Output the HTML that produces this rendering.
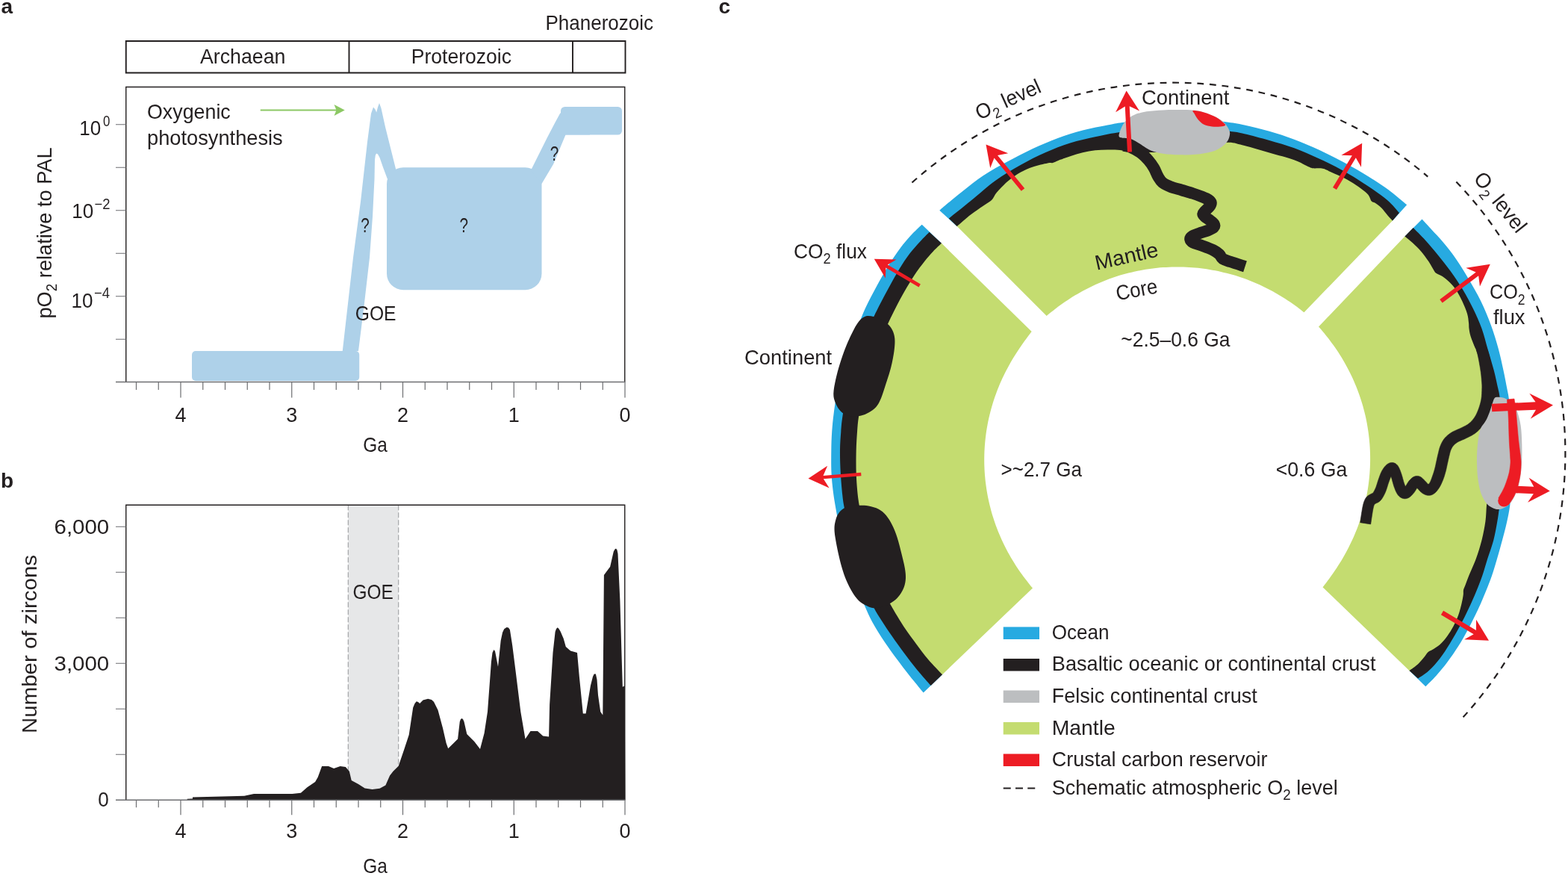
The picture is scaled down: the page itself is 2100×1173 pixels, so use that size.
<!DOCTYPE html>
<html lang="en"><head><meta charset="utf-8"><title>Atmospheric oxygen, zircon record and crustal carbon reservoir</title>
<style>html,body{margin:0;padding:0;background:#fff}svg{display:block}text{font-family:'Liberation Sans', sans-serif}</style>
</head><body>
<svg width="2100" height="1173" viewBox="0 0 2100 1173">
<rect width="2100" height="1173" fill="#fff"/>
<g id="panel-a">
<text x="1.50" y="18.00" font-size="28.00" font-weight="bold" fill="#231f20">a</text>
<path d="M168.75,55H837.5V97.5H168.75ZM467.5,55V97.5M767,55V97.5" fill="none" stroke="#231f20" stroke-width="1.9"/>
<text x="268.00" y="85.00" font-size="28.00" textLength="114.50" lengthAdjust="spacingAndGlyphs" fill="#231f20">Archaean</text>
<text x="550.75" y="85.00" font-size="28.00" textLength="134.25" lengthAdjust="spacingAndGlyphs" fill="#231f20">Proterozoic</text>
<text x="730.50" y="40.00" font-size="28.00" textLength="144.50" lengthAdjust="spacingAndGlyphs" fill="#231f20">Phanerozoic</text>
<rect x="257" y="470" width="224.25" height="40" rx="5" ry="5" fill="#aed1e9"/>
<path d="M458.75,470.00 L473.00,345.00 L483.00,270.00 L492.00,190.00 L497.00,152.00 L500.00,143.50 L502.50,146.50 L504.20,150.50 L506.00,143.50 L508.00,138.00 L510.50,145.00 L516.00,170.00 L523.00,198.00 L530.50,228.00 L519.00,240.00 L513.00,224.00 L508.50,211.00 L506.00,206.50 L504.00,205.50 L502.80,208.00 L502.00,214.00 L501.50,240.00 L499.00,290.00 L495.00,345.00 L487.50,410.00 L480.00,470.00Z" fill="#aed1e9"/>
<rect x="518" y="224.25" width="207.5" height="164" rx="22" ry="22" fill="#aed1e9"/>
<path d="M711.00,228.00 L722.00,206.00 L733.00,184.00 L744.00,163.00 L750.00,152.00 L756.00,146.00 L790.00,146.00 L790.00,180.50 L757.50,180.50 L741.00,220.00 L725.50,246.00Z" fill="#aed1e9"/>
<rect x="751" y="143" width="82" height="37.5" rx="5.5" ry="5.5" fill="#aed1e9"/>
<path d="M168.75,511.5V116.5H836.75V511.5" fill="none" stroke="#231f20" stroke-width="1.4"/>
<path d="M155,511.5H837.4" fill="none" stroke="#6d6e71" stroke-width="1.5"/>
<path d="M155,166.75H168.75M155,224.25H168.75M155,281.75H168.75M155,339.25H168.75M155,396.75H168.75M155,454.25H168.75" stroke="#6d6e71" stroke-width="1.2" fill="none"/>
<path d="M837.00,511.50V532.50M807.25,511.50V522.00M777.50,511.50V522.00M747.75,511.50V522.00M718.00,511.50V522.00M688.25,511.50V532.50M658.50,511.50V522.00M628.75,511.50V522.00M599.00,511.50V522.00M569.25,511.50V522.00M539.50,511.50V532.50M509.75,511.50V522.00M480.00,511.50V522.00M450.25,511.50V522.00M420.50,511.50V522.00M390.75,511.50V532.50M361.00,511.50V522.00M331.25,511.50V522.00M301.50,511.50V522.00M271.75,511.50V522.00M242.00,511.50V532.50M212.25,511.50V522.00M182.50,511.50V522.00" stroke="#6d6e71" stroke-width="1.2" fill="none"/>
<text x="837.00" y="564.50" font-size="28.00" text-anchor="middle" textLength="15.00" lengthAdjust="spacingAndGlyphs" fill="#231f20">0</text>
<text x="688.25" y="564.50" font-size="28.00" text-anchor="middle" textLength="15.00" lengthAdjust="spacingAndGlyphs" fill="#231f20">1</text>
<text x="539.50" y="564.50" font-size="28.00" text-anchor="middle" textLength="15.00" lengthAdjust="spacingAndGlyphs" fill="#231f20">2</text>
<text x="390.75" y="564.50" font-size="28.00" text-anchor="middle" textLength="15.00" lengthAdjust="spacingAndGlyphs" fill="#231f20">3</text>
<text x="242.00" y="564.50" font-size="28.00" text-anchor="middle" textLength="15.00" lengthAdjust="spacingAndGlyphs" fill="#231f20">4</text>
<text x="502.50" y="604.50" font-size="28.00" text-anchor="middle" textLength="32.50" lengthAdjust="spacingAndGlyphs" fill="#231f20">Ga</text>
<text font-size="28" fill="#231f20"><tspan x="106.30" y="181.40" textLength="29" lengthAdjust="spacingAndGlyphs">10</tspan><tspan x="137.90" y="168.80" font-size="19.5" textLength="9.40" lengthAdjust="spacingAndGlyphs">0</tspan></text>
<text font-size="28" fill="#231f20"><tspan x="96.20" y="292.40" textLength="29" lengthAdjust="spacingAndGlyphs">10</tspan><tspan x="126.60" y="279.80" font-size="19.5" textLength="21.00" lengthAdjust="spacingAndGlyphs">−2</tspan></text>
<text font-size="28" fill="#231f20"><tspan x="95.60" y="411.90" textLength="29" lengthAdjust="spacingAndGlyphs">10</tspan><tspan x="126.00" y="399.30" font-size="19.5" textLength="21.00" lengthAdjust="spacingAndGlyphs">−4</tspan></text>
<text transform="translate(68.75,426.5) rotate(-90)" font-size="28" fill="#231f20" textLength="229" lengthAdjust="spacingAndGlyphs">pO<tspan font-size="19.5" dy="7.5">2</tspan><tspan dy="-7.5"> relative to PAL</tspan></text>
<text x="197.00" y="159.25" font-size="28.00" textLength="111.75" lengthAdjust="spacingAndGlyphs" fill="#231f20">Oxygenic</text>
<text x="197.00" y="193.75" font-size="28.00" textLength="181.75" lengthAdjust="spacingAndGlyphs" fill="#231f20">photosynthesis</text>
<text x="475.75" y="428.75" font-size="28.00" textLength="54.75" lengthAdjust="spacingAndGlyphs" fill="#231f20">GOE</text>
<text x="489.00" y="311.25" font-size="28.00" text-anchor="middle" textLength="11.50" lengthAdjust="spacingAndGlyphs" fill="#231f20">?</text>
<text x="621.25" y="311.25" font-size="28.00" text-anchor="middle" textLength="11.50" lengthAdjust="spacingAndGlyphs" fill="#231f20">?</text>
<text x="742.50" y="214.50" font-size="28.00" text-anchor="middle" textLength="11.50" lengthAdjust="spacingAndGlyphs" fill="#231f20">?</text>
<path d="M348.75,147.5H452" stroke="#8cc864" stroke-width="1.8" fill="none"/>
<path d="M461.75,147.5L447.5,140L450.5,147.5L447.5,155Z" fill="#8cc864"/>
</g>
<g id="panel-b">
<text x="1.00" y="652.50" font-size="28.00" font-weight="bold" fill="#231f20">b</text>
<rect x="466.25" y="676.25" width="67.5" height="395" fill="#e6e7e8"/>
<path d="M466.25,676.25V1071M533.75,676.25V1071" stroke="#939598" stroke-width="1" stroke-dasharray="7 3" fill="none"/>
<path d="M250.70,1069.70 L257.90,1069.50 L258.00,1067.40 L327.10,1065.70 L340.00,1062.90 L391.40,1062.90 L402.90,1061.70 L411.40,1054.30 L422.10,1047.10 L425.70,1040.70 L431.10,1026.10 L440.00,1026.10 L447.10,1029.00 L455.70,1026.10 L462.90,1027.10 L467.90,1032.90 L470.70,1045.00 L480.00,1050.00 L488.60,1055.40 L498.60,1057.10 L508.60,1055.70 L516.40,1051.40 L522.10,1038.60 L526.60,1032.80 L533.70,1025.70 L541.10,1004.00 L547.70,984.00 L553.20,947.40 L555.50,942.00 L557.70,939.30 L560.00,940.00 L562.10,941.90 L566.50,937.50 L573.20,935.70 L578.00,937.00 L581.00,939.70 L586.50,950.80 L593.10,975.20 L597.60,995.10 L600.20,1002.20 L607.60,995.10 L613.10,989.60 L615.80,966.30 L617.00,963.00 L618.60,961.90 L620.00,963.00 L621.50,966.30 L625.30,982.90 L635.30,992.90 L643.00,1002.90 L648.60,981.80 L653.00,953.00 L657.90,886.50 L659.50,874.00 L661.40,869.90 L663.00,872.00 L664.10,877.60 L667.00,892.70 L670.70,857.70 L673.00,847.00 L675.20,842.20 L678.50,839.90 L681.00,840.50 L682.90,843.30 L686.20,864.30 L690.70,899.80 L697.30,953.00 L703.50,989.40 L710.50,979.10 L720.00,979.10 L727.20,985.40 L735.10,986.60 L736.10,943.40 L740.50,874.00 L743.60,846.00 L745.00,842.00 L746.80,840.30 L748.50,842.00 L750.60,845.60 L754.70,855.10 L757.80,866.10 L764.10,871.50 L773.00,874.00 L775.80,905.60 L780.80,955.40 L784.60,955.40 L790.90,918.20 L794.00,906.00 L795.70,902.40 L797.90,902.40 L799.50,910.00 L801.00,930.80 L804.20,952.90 L807.30,957.60 L808.90,769.90 L817.10,758.90 L821.80,738.40 L823.50,735.50 L825.00,734.60 L826.50,736.50 L827.50,741.50 L830.40,804.60 L833.80,919.80 L836.70,918.20 L837.40,1071.25 L250.70,1071.25Z" fill="#231f20"/>
<path d="M168.75,1071.25V676.25H836.75V1071.25" fill="none" stroke="#231f20" stroke-width="1.4"/>
<path d="M155,1071.25H837.4" fill="none" stroke="#6d6e71" stroke-width="1.5"/>
<path d="M155,705.25H168.75M155,766.25H168.75M155,827.25H168.75M155,888.25H168.75M155,949.25H168.75M155,1010.25H168.75" stroke="#6d6e71" stroke-width="1.2" fill="none"/>
<path d="M837.00,1071.25V1091.25M807.25,1071.25V1081.25M777.50,1071.25V1081.25M747.75,1071.25V1081.25M718.00,1071.25V1081.25M688.25,1071.25V1091.25M658.50,1071.25V1081.25M628.75,1071.25V1081.25M599.00,1071.25V1081.25M569.25,1071.25V1081.25M539.50,1071.25V1091.25M509.75,1071.25V1081.25M480.00,1071.25V1081.25M450.25,1071.25V1081.25M420.50,1071.25V1081.25M390.75,1071.25V1091.25M361.00,1071.25V1081.25M331.25,1071.25V1081.25M301.50,1071.25V1081.25M271.75,1071.25V1081.25M242.00,1071.25V1091.25M212.25,1071.25V1081.25M182.50,1071.25V1081.25" stroke="#6d6e71" stroke-width="1.2" fill="none"/>
<text x="837.00" y="1122.00" font-size="28.00" text-anchor="middle" textLength="15.00" lengthAdjust="spacingAndGlyphs" fill="#231f20">0</text>
<text x="688.25" y="1122.00" font-size="28.00" text-anchor="middle" textLength="15.00" lengthAdjust="spacingAndGlyphs" fill="#231f20">1</text>
<text x="539.50" y="1122.00" font-size="28.00" text-anchor="middle" textLength="15.00" lengthAdjust="spacingAndGlyphs" fill="#231f20">2</text>
<text x="390.75" y="1122.00" font-size="28.00" text-anchor="middle" textLength="15.00" lengthAdjust="spacingAndGlyphs" fill="#231f20">3</text>
<text x="242.00" y="1122.00" font-size="28.00" text-anchor="middle" textLength="15.00" lengthAdjust="spacingAndGlyphs" fill="#231f20">4</text>
<text x="502.50" y="1168.75" font-size="28.00" text-anchor="middle" textLength="32.50" lengthAdjust="spacingAndGlyphs" fill="#231f20">Ga</text>
<text x="146.25" y="714.50" font-size="28.00" text-anchor="end" textLength="73.75" lengthAdjust="spacingAndGlyphs" fill="#231f20">6,000</text>
<text x="146.25" y="897.50" font-size="28.00" text-anchor="end" textLength="73.75" lengthAdjust="spacingAndGlyphs" fill="#231f20">3,000</text>
<text x="145.75" y="1080.00" font-size="28.00" text-anchor="end" textLength="14.50" lengthAdjust="spacingAndGlyphs" fill="#231f20">0</text>
<text x="0" y="0" transform="translate(48.75,982.00) rotate(-90.00)" font-size="28.00" textLength="239.00" lengthAdjust="spacingAndGlyphs" fill="#231f20">Number of zircons</text>
<text x="472.50" y="802.00" font-size="28.00" textLength="54.25" lengthAdjust="spacingAndGlyphs" fill="#231f20">GOE</text>
</g>
<g id="panel-c">
<text x="962.50" y="18.00" font-size="28.00" font-weight="bold" fill="#231f20">c</text>
<path d="M1234.70,300.80 C1232.18,303.25 1224.40,310.30 1219.60,315.50 C1214.80,320.70 1210.45,325.97 1205.90,332.00 C1201.35,338.03 1196.52,345.12 1192.30,351.70 C1188.08,358.28 1184.50,364.62 1180.60,371.50 C1176.70,378.38 1172.53,386.08 1168.90,393.00 C1165.27,399.92 1162.00,406.00 1158.80,413.00 C1155.60,420.00 1152.83,427.17 1149.70,435.00 C1146.57,442.83 1143.28,450.83 1140.00,460.00 C1136.72,469.17 1133.00,480.00 1130.00,490.00 C1127.00,500.00 1124.22,509.45 1122.00,520.00 C1119.78,530.55 1118.00,543.58 1116.70,553.30 C1115.40,563.02 1114.77,569.97 1114.20,578.30 C1113.63,586.63 1113.42,594.13 1113.30,603.30 C1113.18,612.47 1113.08,624.13 1113.50,633.30 C1113.92,642.47 1114.85,650.52 1115.80,658.30 C1116.75,666.08 1117.83,672.22 1119.20,680.00 C1120.57,687.78 1122.03,695.83 1124.00,705.00 C1125.97,714.17 1128.33,725.00 1131.00,735.00 C1133.67,745.00 1136.83,755.50 1140.00,765.00 C1143.17,774.50 1147.00,784.33 1150.00,792.00 C1153.00,799.67 1154.95,804.17 1158.00,811.00 C1161.05,817.83 1163.80,824.83 1168.30,833.00 C1172.80,841.17 1179.43,851.62 1185.00,860.00 C1190.57,868.38 1196.15,875.80 1201.70,883.30 C1207.25,890.80 1212.47,897.63 1218.30,905.00 C1224.13,912.37 1233.63,923.75 1236.70,927.50 L1262.44,902.90 C1259.33,899.57 1249.64,889.85 1243.77,882.93 C1237.89,876.00 1232.19,868.01 1227.19,861.36 C1222.20,854.70 1217.97,849.09 1213.81,842.98 C1209.65,836.88 1205.69,830.38 1202.23,824.71 C1198.76,819.03 1196.15,814.42 1193.04,808.93 C1189.92,803.44 1186.96,799.11 1183.55,791.76 C1180.14,784.40 1175.89,774.28 1172.56,764.79 C1169.24,755.31 1166.24,744.82 1163.58,734.84 C1160.91,724.85 1158.62,714.58 1156.59,704.88 C1154.56,695.18 1152.68,684.39 1151.39,676.62 C1150.11,668.85 1149.58,665.47 1148.90,658.24 C1148.21,651.02 1147.57,642.43 1147.30,633.28 C1147.03,624.12 1147.08,612.47 1147.30,603.32 C1147.52,594.17 1148.05,585.84 1148.60,578.36 C1149.15,570.87 1149.43,566.09 1150.59,558.38 C1151.76,550.68 1153.42,541.16 1155.59,532.12 C1157.75,523.08 1160.75,513.48 1163.58,504.16 C1166.41,494.84 1169.57,484.85 1172.57,476.20 C1175.56,467.54 1178.42,459.89 1181.55,452.23 C1184.68,444.58 1188.21,436.97 1191.34,430.26 C1194.47,423.56 1196.88,418.65 1200.33,411.99 C1203.77,405.33 1207.85,397.54 1212.01,390.32 C1216.17,383.09 1220.85,375.31 1225.29,368.65 C1229.73,361.99 1234.53,355.63 1238.67,350.37 C1242.81,345.11 1246.36,341.12 1250.15,337.09 C1253.95,333.06 1259.56,328.02 1261.44,326.21Z" fill="#27aae1"/>
<path d="M1260.27,325.12 C1258.38,326.94 1252.75,332.00 1248.94,336.05 C1245.13,340.09 1241.58,344.10 1237.42,349.38 C1233.26,354.66 1228.45,361.04 1223.98,367.72 C1219.52,374.40 1214.83,382.22 1210.65,389.47 C1206.48,396.72 1202.38,404.54 1198.92,411.22 C1195.46,417.90 1193.04,422.83 1189.90,429.56 C1186.76,436.29 1183.22,443.93 1180.08,451.61 C1176.94,459.30 1174.06,466.98 1171.06,475.67 C1168.05,484.36 1164.88,494.38 1162.04,503.73 C1159.20,513.09 1156.19,522.73 1154.02,531.80 C1151.85,540.87 1150.18,550.43 1149.01,558.16 C1147.84,565.90 1147.56,570.69 1147.00,578.21 C1146.45,585.73 1145.92,594.08 1145.70,603.27 C1145.48,612.45 1145.43,624.15 1145.70,633.34 C1145.97,642.52 1146.62,651.14 1147.30,658.39 C1147.99,665.64 1148.52,669.04 1149.81,676.84 C1151.10,684.64 1152.98,695.46 1155.02,705.20 C1157.06,714.94 1159.36,725.25 1162.04,735.27 C1164.71,745.30 1167.72,755.82 1171.06,765.34 C1174.40,774.86 1178.66,785.02 1182.09,792.40 C1185.51,799.79 1188.48,804.13 1191.61,809.65 C1194.73,815.16 1197.35,819.79 1200.82,825.48 C1204.30,831.18 1208.27,837.70 1212.45,843.83 C1216.63,849.96 1220.87,855.59 1225.88,862.27 C1230.89,868.95 1236.62,876.97 1242.52,883.92 C1248.41,890.87 1258.14,900.63 1261.26,903.97 L1383.00,787.50 C1382.17,786.49 1379.66,783.50 1378.03,781.47 C1376.40,779.44 1374.79,777.39 1373.21,775.31 C1371.64,773.24 1370.09,771.15 1368.57,769.04 C1367.05,766.93 1365.56,764.80 1364.09,762.65 C1362.63,760.50 1361.20,758.33 1359.80,756.14 C1358.40,753.95 1357.03,751.74 1355.69,749.51 C1354.35,747.29 1353.05,745.04 1351.77,742.78 C1350.50,740.51 1349.26,738.23 1348.05,735.93 C1346.84,733.63 1345.67,731.31 1344.53,728.98 C1343.39,726.65 1342.28,724.30 1341.21,721.93 C1340.14,719.56 1339.10,717.18 1338.10,714.79 C1337.10,712.39 1336.14,709.98 1335.21,707.55 C1334.28,705.13 1333.39,702.69 1332.54,700.24 C1331.68,697.79 1330.86,695.32 1330.08,692.85 C1329.30,690.37 1328.56,687.88 1327.85,685.38 C1327.15,682.88 1326.48,680.37 1325.85,677.85 C1325.22,675.34 1324.63,672.81 1324.08,670.27 C1323.53,667.73 1323.01,665.19 1322.54,662.64 C1322.06,660.08 1321.62,657.52 1321.23,654.96 C1320.83,652.39 1320.47,649.82 1320.15,647.24 C1319.83,644.67 1319.55,642.09 1319.31,639.50 C1319.07,636.92 1318.86,634.33 1318.70,631.74 C1318.54,629.14 1318.42,626.55 1318.33,623.96 C1318.25,621.36 1318.21,618.76 1318.20,616.17 C1318.20,613.57 1318.23,610.97 1318.30,608.38 C1318.38,605.78 1318.49,603.19 1318.65,600.60 C1318.80,598.01 1318.99,595.42 1319.22,592.83 C1319.45,590.25 1319.73,587.66 1320.04,585.08 C1320.35,582.51 1320.70,579.93 1321.08,577.37 C1321.47,574.80 1321.90,572.24 1322.37,569.68 C1322.83,567.13 1323.34,564.58 1323.88,562.04 C1324.42,559.51 1325.01,556.97 1325.63,554.45 C1326.25,551.93 1326.90,549.42 1327.60,546.92 C1328.30,544.42 1329.03,541.93 1329.80,539.45 C1330.57,536.97 1331.38,534.50 1332.23,532.05 C1333.07,529.59 1333.95,527.15 1334.87,524.72 C1335.79,522.29 1336.74,519.87 1337.73,517.47 C1338.72,515.07 1339.75,512.69 1340.80,510.31 C1341.86,507.94 1342.96,505.59 1344.08,503.25 C1345.21,500.91 1346.37,498.58 1347.56,496.27 C1348.76,493.97 1349.98,491.67 1351.24,489.40 C1352.49,487.12 1353.78,484.87 1355.10,482.62 C1356.42,480.38 1357.77,478.16 1359.14,475.95 C1360.52,473.74 1361.92,471.55 1363.35,469.38 C1364.78,467.20 1366.24,465.04 1367.72,462.90 C1369.21,460.76 1370.72,458.63 1372.25,456.52 C1373.78,454.40 1375.33,452.31 1376.91,450.22 C1378.48,448.13 1380.90,445.04 1381.70,444.00Z" fill="#c4dc70"/>
<path d="M1244.60,310.80 C1242.58,312.88 1236.93,318.43 1232.50,323.30 C1228.07,328.17 1222.65,333.88 1218.00,340.00 C1213.35,346.12 1209.03,352.78 1204.60,360.00 C1200.17,367.22 1195.53,375.80 1191.40,383.30 C1187.27,390.80 1183.13,398.60 1179.80,405.00 C1176.47,411.40 1174.70,415.03 1171.40,421.70 C1168.10,428.37 1163.57,436.95 1160.00,445.00 C1156.43,453.05 1153.17,461.17 1150.00,470.00 C1146.83,478.83 1143.67,488.50 1141.00,498.00 C1138.33,507.50 1136.12,516.95 1134.00,527.00 C1131.88,537.05 1129.58,549.75 1128.30,558.30 C1127.02,566.85 1126.85,570.80 1126.30,578.30 C1125.75,585.80 1125.08,594.13 1125.00,603.30 C1124.92,612.47 1125.25,623.30 1125.80,633.30 C1126.35,643.30 1127.47,655.52 1128.30,663.30 C1129.13,671.08 1129.52,673.05 1130.80,680.00 C1132.08,686.95 1133.97,695.83 1136.00,705.00 C1138.03,714.17 1140.33,725.00 1143.00,735.00 C1145.67,745.00 1148.83,755.00 1152.00,765.00 C1155.17,775.00 1158.90,786.80 1162.00,795.00 C1165.10,803.20 1167.40,808.08 1170.60,814.20 C1173.80,820.32 1177.20,825.45 1181.20,831.70 C1185.20,837.95 1189.58,844.48 1194.60,851.70 C1199.62,858.92 1205.72,867.50 1211.30,875.00 C1216.88,882.50 1222.20,889.53 1228.10,896.70 C1234.00,903.87 1243.60,914.45 1246.70,918.00 L1262.00,903.30 C1258.88,899.97 1249.18,890.23 1243.30,883.30 C1237.42,876.37 1231.70,868.37 1226.70,861.70 C1221.70,855.03 1217.47,849.42 1213.30,843.30 C1209.13,837.18 1205.17,830.68 1201.70,825.00 C1198.23,819.32 1195.62,814.70 1192.50,809.20 C1189.38,803.70 1186.42,799.37 1183.00,792.00 C1179.58,784.63 1175.33,774.50 1172.00,765.00 C1168.67,755.50 1165.67,745.00 1163.00,735.00 C1160.33,725.00 1158.03,714.72 1156.00,705.00 C1153.97,695.28 1152.08,684.48 1150.80,676.70 C1149.52,668.92 1148.98,665.53 1148.30,658.30 C1147.62,651.07 1146.97,642.47 1146.70,633.30 C1146.43,624.13 1146.48,612.47 1146.70,603.30 C1146.92,594.13 1147.45,585.80 1148.00,578.30 C1148.55,570.80 1148.83,566.02 1150.00,558.30 C1151.17,550.58 1152.83,541.05 1155.00,532.00 C1157.17,522.95 1160.17,513.33 1163.00,504.00 C1165.83,494.67 1169.00,484.67 1172.00,476.00 C1175.00,467.33 1177.87,459.67 1181.00,452.00 C1184.13,444.33 1187.67,436.72 1190.80,430.00 C1193.93,423.28 1196.35,418.37 1199.80,411.70 C1203.25,405.03 1207.33,397.23 1211.50,390.00 C1215.67,382.77 1220.35,374.97 1224.80,368.30 C1229.25,361.63 1234.05,355.27 1238.20,350.00 C1242.35,344.73 1245.90,340.73 1249.70,336.70 C1253.50,332.67 1259.12,327.62 1261.00,325.80Z" fill="#231f20"/>
<path d="M1160.00,423.30 C1163.17,422.38 1166.67,423.30 1170.00,424.00 C1173.33,424.70 1176.95,425.95 1180.00,427.50 C1183.05,429.05 1185.80,430.93 1188.30,433.30 C1190.80,435.67 1193.33,438.37 1195.00,441.70 C1196.67,445.03 1197.88,448.58 1198.30,453.30 C1198.72,458.02 1198.33,463.60 1197.50,470.00 C1196.67,476.40 1195.10,484.48 1193.30,491.70 C1191.50,498.92 1188.92,506.37 1186.70,513.30 C1184.48,520.23 1182.23,528.02 1180.00,533.30 C1177.77,538.58 1176.08,541.80 1173.30,545.00 C1170.52,548.20 1166.63,550.58 1163.30,552.50 C1159.97,554.42 1156.85,555.67 1153.30,556.50 C1149.75,557.33 1145.60,557.75 1142.00,557.50 C1138.40,557.25 1134.70,556.50 1131.70,555.00 C1128.70,553.50 1126.23,551.33 1124.00,548.50 C1121.77,545.67 1119.58,541.63 1118.30,538.00 C1117.02,534.37 1116.15,531.65 1116.30,526.70 C1116.45,521.75 1117.75,514.97 1119.20,508.30 C1120.65,501.63 1122.65,494.20 1125.00,486.70 C1127.35,479.20 1130.25,470.80 1133.30,463.30 C1136.35,455.80 1140.35,447.33 1143.30,441.70 C1146.25,436.07 1148.22,432.57 1151.00,429.50 C1153.78,426.43 1156.83,424.22 1160.00,423.30Z" fill="#231f20"/>
<path d="M1150.80,676.70 C1154.68,676.70 1158.98,676.67 1163.30,677.50 C1167.62,678.33 1172.80,679.62 1176.70,681.70 C1180.60,683.78 1183.65,686.40 1186.70,690.00 C1189.75,693.60 1192.50,698.30 1195.00,703.30 C1197.50,708.30 1199.62,713.60 1201.70,720.00 C1203.78,726.40 1205.83,735.03 1207.50,741.70 C1209.17,748.37 1210.78,754.62 1211.70,760.00 C1212.62,765.38 1213.15,769.67 1213.00,774.00 C1212.85,778.33 1212.13,782.22 1210.80,786.00 C1209.47,789.78 1207.35,793.53 1205.00,796.70 C1202.65,799.87 1200.03,802.53 1196.70,805.00 C1193.37,807.47 1189.45,809.97 1185.00,811.50 C1180.55,813.03 1174.17,814.32 1170.00,814.20 C1165.83,814.08 1163.33,812.47 1160.00,810.80 C1156.67,809.13 1153.05,807.12 1150.00,804.20 C1146.95,801.28 1144.48,797.88 1141.70,793.30 C1138.92,788.72 1135.67,782.25 1133.30,776.70 C1130.93,771.15 1129.30,766.12 1127.50,760.00 C1125.70,753.88 1123.97,746.67 1122.50,740.00 C1121.03,733.33 1119.53,725.33 1118.70,720.00 C1117.87,714.67 1117.50,711.62 1117.50,708.00 C1117.50,704.38 1117.87,701.58 1118.70,698.30 C1119.53,695.02 1120.62,691.22 1122.50,688.30 C1124.38,685.38 1127.08,682.60 1130.00,680.80 C1132.92,679.00 1136.53,678.18 1140.00,677.50 C1143.47,676.82 1146.92,676.70 1150.80,676.70Z" fill="#231f20"/>
<path d="M1258.30,281.70 C1262.47,278.22 1273.57,268.53 1283.30,260.80 C1293.03,253.07 1305.58,242.77 1316.70,235.30 C1327.82,227.83 1338.90,222.03 1350.00,216.00 C1361.10,209.97 1372.18,204.27 1383.30,199.10 C1394.42,193.93 1405.58,189.08 1416.70,185.00 C1427.82,180.92 1438.90,177.50 1450.00,174.60 C1461.10,171.70 1474.42,169.35 1483.30,167.60 C1492.18,165.85 1493.85,165.45 1503.30,164.10 C1512.75,162.75 1528.05,160.47 1540.00,159.50 C1551.95,158.53 1563.33,158.25 1575.00,158.30 C1586.67,158.35 1598.88,158.97 1610.00,159.80 C1621.12,160.63 1632.25,162.02 1641.70,163.30 C1651.15,164.58 1656.98,165.42 1666.70,167.50 C1676.42,169.58 1688.90,172.60 1700.00,175.80 C1711.10,179.00 1722.18,182.53 1733.30,186.70 C1744.42,190.87 1755.58,195.67 1766.70,200.80 C1777.82,205.93 1788.90,211.52 1800.00,217.50 C1811.10,223.48 1823.58,230.73 1833.30,236.70 C1843.02,242.67 1849.82,247.05 1858.30,253.30 C1866.78,259.55 1879.88,270.72 1884.20,274.20 L1864.60,295.95 C1863.48,294.75 1860.41,291.62 1857.91,288.76 C1855.41,285.89 1852.39,281.53 1849.62,278.77 C1846.86,276.00 1843.55,273.69 1841.33,272.18 C1839.12,270.66 1838.00,271.63 1836.34,269.68 C1834.68,267.73 1834.68,263.97 1831.35,260.49 C1828.02,257.01 1821.65,252.41 1816.37,248.80 C1811.10,245.19 1805.25,241.73 1799.70,238.82 C1794.14,235.90 1787.73,233.41 1783.02,231.33 C1778.31,229.25 1775.59,227.25 1771.43,226.34 C1767.27,225.42 1761.16,226.23 1758.05,225.84 C1754.93,225.46 1756.92,225.89 1752.75,224.05 C1748.59,222.20 1741.90,217.92 1733.08,214.76 C1724.26,211.60 1710.91,208.27 1699.83,205.07 C1688.74,201.88 1676.28,197.83 1666.57,195.59 C1656.87,193.34 1651.05,190.26 1641.61,191.59 C1632.17,192.93 1621.05,201.43 1609.95,203.60 C1598.85,205.77 1586.65,204.43 1575.00,204.60 C1563.35,204.77 1550.59,204.72 1540.05,204.60 C1529.52,204.48 1518.45,204.39 1511.79,203.89 C1505.13,203.39 1504.83,202.06 1500.11,201.59 C1495.38,201.12 1488.97,201.04 1483.43,201.09 C1477.89,201.13 1472.39,201.25 1466.85,201.88 C1461.31,202.51 1455.73,203.54 1450.17,204.87 C1444.62,206.20 1439.04,208.05 1433.50,209.87 C1427.96,211.68 1420.80,214.31 1416.92,215.76 C1413.04,217.21 1412.51,218.01 1410.23,218.55 C1407.95,219.10 1407.68,218.15 1403.24,219.05 C1398.79,219.95 1389.61,221.89 1383.56,223.94 C1377.52,225.99 1372.53,228.15 1366.99,231.33 C1361.44,234.51 1355.42,238.74 1350.31,243.01 C1345.20,247.29 1339.33,253.75 1336.33,257.00 C1333.34,260.25 1333.67,260.58 1332.34,262.49 C1331.01,264.41 1330.89,266.21 1328.35,268.49 C1325.80,270.77 1321.72,272.92 1317.06,276.18 C1312.40,279.44 1306.21,283.50 1300.38,288.06 C1294.56,292.62 1285.16,300.96 1282.11,303.54Z" fill="#27aae1"/>
<path d="M1281.02,302.37 C1284.07,299.78 1293.51,291.41 1299.36,286.83 C1305.21,282.25 1311.42,278.18 1316.10,274.90 C1320.77,271.63 1324.87,269.47 1327.42,267.18 C1329.98,264.90 1330.10,263.09 1331.43,261.18 C1332.77,259.26 1332.44,258.92 1335.45,255.67 C1338.46,252.41 1344.35,245.93 1349.48,241.64 C1354.61,237.35 1360.66,233.11 1366.22,229.92 C1371.79,226.73 1376.80,224.56 1382.86,222.50 C1388.92,220.45 1398.14,218.49 1402.60,217.58 C1407.06,216.68 1407.33,217.63 1409.62,217.08 C1411.90,216.52 1412.44,215.72 1416.33,214.27 C1420.22,212.82 1427.41,210.18 1432.97,208.36 C1438.53,206.53 1444.13,204.68 1449.71,203.34 C1455.29,202.01 1460.88,200.97 1466.45,200.33 C1472.01,199.70 1477.52,199.58 1483.08,199.52 C1488.65,199.47 1495.08,199.55 1499.82,200.02 C1504.56,200.48 1504.86,201.81 1511.55,202.31 C1518.23,202.81 1529.34,202.89 1539.91,203.00 C1550.49,203.12 1563.30,203.17 1575.00,203.00 C1586.69,202.83 1598.94,204.17 1610.08,202.00 C1621.22,199.84 1632.38,191.34 1641.85,190.01 C1651.32,188.68 1657.17,191.77 1666.91,194.02 C1676.65,196.28 1689.16,200.33 1700.29,203.54 C1711.41,206.75 1724.81,210.09 1733.66,213.27 C1742.52,216.44 1749.23,220.73 1753.41,222.59 C1757.59,224.44 1755.60,224.01 1758.72,224.39 C1761.84,224.78 1767.97,223.98 1772.15,224.91 C1776.32,225.83 1779.05,227.83 1783.77,229.92 C1788.50,232.01 1794.93,234.51 1800.51,237.44 C1806.09,240.36 1811.95,243.84 1817.25,247.46 C1822.54,251.09 1828.94,255.70 1832.28,259.19 C1835.62,262.68 1835.63,266.45 1837.30,268.40 C1838.97,270.35 1840.09,269.39 1842.31,270.91 C1844.53,272.43 1847.85,274.75 1850.63,277.52 C1853.40,280.29 1856.44,284.67 1858.95,287.54 C1861.46,290.41 1864.55,293.55 1865.67,294.76 L1746.50,418.30 C1745.48,417.49 1742.42,415.05 1740.36,413.46 C1738.29,411.88 1736.20,410.33 1734.08,408.80 C1731.97,407.27 1729.84,405.78 1727.69,404.31 C1725.54,402.84 1723.36,401.41 1721.17,400.00 C1718.98,398.59 1716.77,397.22 1714.54,395.88 C1712.31,394.53 1710.06,393.22 1707.79,391.94 C1705.52,390.66 1703.24,389.42 1700.94,388.20 C1698.63,386.99 1696.31,385.81 1693.97,384.66 C1691.64,383.52 1689.28,382.40 1686.92,381.33 C1684.55,380.25 1682.16,379.20 1679.76,378.19 C1677.36,377.19 1674.95,376.21 1672.52,375.27 C1670.09,374.34 1667.65,373.43 1665.20,372.57 C1662.74,371.70 1660.28,370.87 1657.80,370.07 C1655.32,369.28 1652.83,368.52 1650.33,367.80 C1647.83,367.08 1645.32,366.39 1642.80,365.75 C1640.28,365.10 1637.74,364.49 1635.21,363.91 C1632.67,363.34 1630.12,362.80 1627.57,362.31 C1625.01,361.81 1622.45,361.35 1619.88,360.92 C1617.31,360.50 1614.74,360.12 1612.16,359.77 C1609.58,359.42 1607.00,359.11 1604.41,358.84 C1601.82,358.57 1599.23,358.34 1596.63,358.14 C1594.04,357.95 1591.44,357.79 1588.84,357.67 C1586.24,357.56 1583.64,357.48 1581.03,357.43 C1578.43,357.39 1575.83,357.39 1573.23,357.42 C1570.62,357.46 1568.02,357.53 1565.42,357.64 C1562.82,357.76 1560.22,357.91 1557.63,358.09 C1555.03,358.28 1552.44,358.51 1549.85,358.77 C1547.26,359.04 1544.67,359.34 1542.09,359.68 C1539.51,360.02 1536.94,360.40 1534.37,360.82 C1531.80,361.23 1529.24,361.69 1526.68,362.18 C1524.13,362.67 1521.58,363.20 1519.04,363.77 C1516.50,364.34 1513.96,364.94 1511.44,365.58 C1508.92,366.22 1506.41,366.90 1503.90,367.62 C1501.40,368.33 1498.91,369.09 1496.43,369.87 C1493.95,370.66 1491.48,371.49 1489.03,372.35 C1486.57,373.21 1484.13,374.11 1481.70,375.04 C1479.27,375.97 1476.85,376.94 1474.45,377.95 C1472.05,378.95 1469.66,379.99 1467.29,381.06 C1464.92,382.13 1462.56,383.24 1460.22,384.38 C1457.88,385.53 1455.56,386.70 1453.26,387.91 C1450.95,389.12 1448.66,390.36 1446.40,391.64 C1444.13,392.92 1441.88,394.22 1439.64,395.56 C1437.41,396.91 1435.20,398.28 1433.01,399.68 C1430.82,401.09 1428.64,402.52 1426.49,403.99 C1424.34,405.45 1422.21,406.95 1420.10,408.48 C1417.99,410.00 1415.90,411.56 1413.83,413.15 C1411.77,414.73 1409.72,416.35 1407.70,417.99 C1405.68,419.63 1402.70,422.16 1401.70,423.00Z" fill="#c4dc70"/>
<path d="M1270.80,292.60 C1275.67,288.68 1289.58,277.58 1300.00,269.10 C1310.42,260.62 1322.18,249.72 1333.30,241.70 C1344.42,233.68 1355.58,227.23 1366.70,221.00 C1377.82,214.77 1388.90,209.22 1400.00,204.30 C1411.10,199.38 1422.18,195.00 1433.30,191.50 C1444.42,188.00 1456.13,185.63 1466.70,183.30 C1477.27,180.97 1484.48,179.30 1496.70,177.50 C1508.92,175.70 1526.95,173.50 1540.00,172.50 C1553.05,171.50 1563.33,171.50 1575.00,171.50 C1586.67,171.50 1598.05,171.78 1610.00,172.50 C1621.95,173.22 1637.25,174.68 1646.70,175.80 C1656.15,176.92 1657.82,177.17 1666.70,179.20 C1675.58,181.23 1688.90,184.82 1700.00,188.00 C1711.10,191.18 1722.18,194.22 1733.30,198.30 C1744.42,202.38 1755.58,207.35 1766.70,212.50 C1777.82,217.65 1788.90,222.95 1800.00,229.20 C1811.10,235.45 1823.58,243.48 1833.30,250.00 C1843.02,256.52 1851.52,262.47 1858.30,268.30 C1865.08,274.13 1871.38,282.22 1874.00,285.00 L1865.00,295.50 C1863.88,294.30 1860.80,291.17 1858.30,288.30 C1855.80,285.43 1852.77,281.07 1850.00,278.30 C1847.23,275.53 1843.92,273.22 1841.70,271.70 C1839.48,270.18 1838.37,271.15 1836.70,269.20 C1835.03,267.25 1835.03,263.48 1831.70,260.00 C1828.37,256.52 1821.98,251.92 1816.70,248.30 C1811.42,244.68 1805.57,241.22 1800.00,238.30 C1794.43,235.38 1788.02,232.88 1783.30,230.80 C1778.58,228.72 1775.87,226.72 1771.70,225.80 C1767.53,224.88 1761.42,225.68 1758.30,225.30 C1755.18,224.92 1757.17,225.35 1753.00,223.50 C1748.83,221.65 1742.13,217.37 1733.30,214.20 C1724.47,211.03 1711.10,207.70 1700.00,204.50 C1688.90,201.30 1676.42,197.25 1666.70,195.00 C1656.98,192.75 1651.15,189.67 1641.70,191.00 C1632.25,192.33 1621.12,200.83 1610.00,203.00 C1598.88,205.17 1586.67,203.83 1575.00,204.00 C1563.33,204.17 1550.55,204.12 1540.00,204.00 C1529.45,203.88 1518.37,203.80 1511.70,203.30 C1505.03,202.80 1504.73,201.47 1500.00,201.00 C1495.27,200.53 1488.85,200.45 1483.30,200.50 C1477.75,200.55 1472.25,200.67 1466.70,201.30 C1461.15,201.93 1455.57,202.97 1450.00,204.30 C1444.43,205.63 1438.85,207.48 1433.30,209.30 C1427.75,211.12 1420.58,213.75 1416.70,215.20 C1412.82,216.65 1412.28,217.45 1410.00,218.00 C1407.72,218.55 1407.45,217.60 1403.00,218.50 C1398.55,219.40 1389.35,221.35 1383.30,223.40 C1377.25,225.45 1372.25,227.62 1366.70,230.80 C1361.15,233.98 1355.12,238.22 1350.00,242.50 C1344.88,246.78 1339.00,253.25 1336.00,256.50 C1333.00,259.75 1333.33,260.08 1332.00,262.00 C1330.67,263.92 1330.55,265.72 1328.00,268.00 C1325.45,270.28 1321.37,272.43 1316.70,275.70 C1312.03,278.97 1305.83,283.03 1300.00,287.60 C1294.17,292.17 1284.75,300.52 1281.70,303.10Z" fill="#231f20"/>
<path d="M1505.00,195.00 C1506.42,195.30 1509.75,195.22 1513.50,196.80 C1517.25,198.38 1523.42,201.55 1527.50,204.50 C1531.58,207.45 1535.00,211.08 1538.00,214.50 C1541.00,217.92 1543.33,221.33 1545.50,225.00 C1547.67,228.67 1549.08,233.25 1551.00,236.50 C1552.92,239.75 1554.25,242.25 1557.00,244.50 C1559.75,246.75 1563.25,248.33 1567.50,250.00 C1571.75,251.67 1577.50,253.00 1582.50,254.50 C1587.50,256.00 1592.92,257.50 1597.50,259.00 C1602.08,260.50 1606.50,262.08 1610.00,263.50 C1613.50,264.92 1616.50,266.17 1618.50,267.50 C1620.50,268.83 1621.75,270.00 1622.00,271.50 C1622.25,273.00 1621.33,274.67 1620.00,276.50 C1618.67,278.33 1615.50,280.83 1614.00,282.50 C1612.50,284.17 1611.08,285.25 1611.00,286.50 C1610.92,287.75 1611.92,288.58 1613.50,290.00 C1615.08,291.42 1618.42,293.33 1620.50,295.00 C1622.58,296.67 1625.17,298.42 1626.00,300.00 C1626.83,301.58 1626.83,303.08 1625.50,304.50 C1624.17,305.92 1621.25,307.17 1618.00,308.50 C1614.75,309.83 1609.58,311.17 1606.00,312.50 C1602.42,313.83 1598.50,315.17 1596.50,316.50 C1594.50,317.83 1593.75,319.08 1594.00,320.50 C1594.25,321.92 1595.33,323.58 1598.00,325.00 C1600.67,326.42 1605.50,327.33 1610.00,329.00 C1614.50,330.67 1621.17,333.08 1625.00,335.00 C1628.83,336.92 1630.92,338.58 1633.00,340.50 C1635.08,342.42 1635.00,344.83 1637.50,346.50 C1640.00,348.17 1643.00,348.78 1648.00,350.50 C1653.00,352.22 1664.25,355.75 1667.50,356.80" fill="none" stroke="#231f20" stroke-width="15.5" stroke-linejoin="round"/>
<path d="M1498.50,182.10 C1498.22,179.83 1500.17,174.67 1501.80,171.20 C1503.43,167.73 1505.38,164.22 1508.30,161.30 C1511.22,158.38 1514.73,155.70 1519.30,153.70 C1523.87,151.70 1529.32,150.35 1535.70,149.30 C1542.08,148.25 1550.30,147.77 1557.60,147.40 C1564.90,147.03 1572.75,147.07 1579.50,147.10 C1586.25,147.13 1592.62,147.05 1598.10,147.60 C1603.58,148.15 1607.28,148.83 1612.40,150.40 C1617.52,151.97 1624.23,154.63 1628.80,157.00 C1633.37,159.37 1636.88,161.68 1639.80,164.60 C1642.72,167.52 1645.12,171.77 1646.30,174.50 C1647.48,177.23 1647.27,178.63 1646.90,181.00 C1646.53,183.37 1645.83,186.13 1644.10,188.70 C1642.37,191.27 1639.97,194.02 1636.50,196.40 C1633.03,198.78 1629.15,201.27 1623.30,203.00 C1617.45,204.73 1608.70,206.08 1601.40,206.80 C1594.10,207.52 1586.80,207.48 1579.50,207.30 C1572.20,207.12 1563.98,206.67 1557.60,205.70 C1551.22,204.73 1546.67,203.87 1541.20,201.50 C1535.73,199.13 1529.37,194.12 1524.80,191.50 C1520.23,188.88 1517.35,186.92 1513.80,185.80 C1510.25,184.68 1506.05,185.42 1503.50,184.80 C1500.95,184.18 1498.78,184.37 1498.50,182.10Z" fill="#bcbec0"/>
<path d="M1598.10,148.00 C1600.20,147.63 1607.28,148.90 1612.40,150.40 C1617.52,151.90 1624.42,154.63 1628.80,157.00 C1633.18,159.37 1636.68,162.78 1638.70,164.60 C1640.72,166.42 1641.63,167.08 1640.90,167.90 C1640.17,168.72 1637.23,169.23 1634.30,169.50 C1631.37,169.77 1626.95,169.95 1623.30,169.50 C1619.65,169.05 1615.50,168.35 1612.40,166.80 C1609.30,165.25 1606.80,162.57 1604.70,160.20 C1602.60,157.83 1600.90,154.63 1599.80,152.60 C1598.70,150.57 1596.00,148.37 1598.10,148.00Z" fill="#ed1c24"/>
<path d="M1904.50,293.50 C1906.53,295.70 1911.90,301.45 1916.70,306.70 C1921.50,311.95 1927.75,318.33 1933.30,325.00 C1938.85,331.67 1944.43,338.65 1950.00,346.70 C1955.57,354.75 1961.15,363.87 1966.70,373.30 C1972.25,382.73 1978.30,393.02 1983.30,403.30 C1988.30,413.58 1992.80,424.43 1996.70,435.00 C2000.60,445.57 2003.93,456.70 2006.70,466.70 C2009.47,476.70 2011.37,486.12 2013.30,495.00 C2015.23,503.88 2017.02,513.33 2018.30,520.00 C2019.58,526.67 2019.88,526.67 2021.00,535.00 C2022.12,543.33 2024.08,558.33 2025.00,570.00 C2025.92,581.67 2026.42,593.33 2026.50,605.00 C2026.58,616.67 2026.17,628.33 2025.50,640.00 C2024.83,651.67 2023.70,665.28 2022.50,675.00 C2021.30,684.72 2020.05,690.25 2018.30,698.30 C2016.55,706.35 2014.22,714.97 2012.00,723.30 C2009.78,731.63 2007.33,740.35 2005.00,748.30 C2002.67,756.25 2000.50,763.77 1998.00,771.00 C1995.50,778.23 1993.00,784.37 1990.00,791.70 C1987.00,799.03 1983.88,806.67 1980.00,815.00 C1976.12,823.33 1971.15,833.37 1966.70,841.70 C1962.25,850.03 1958.03,857.50 1953.30,865.00 C1948.57,872.50 1943.30,880.03 1938.30,886.70 C1933.30,893.37 1928.13,899.58 1923.30,905.00 C1918.47,910.42 1911.63,916.83 1909.30,919.20 L1887.05,897.60 C1888.85,896.27 1894.65,892.48 1897.84,889.61 C1901.04,886.75 1903.87,883.21 1906.23,880.43 C1908.59,877.65 1910.09,874.73 1912.02,872.94 C1913.95,871.14 1915.19,871.31 1917.82,869.64 C1920.45,867.98 1924.48,866.00 1927.81,862.96 C1931.14,859.91 1934.73,855.54 1937.80,851.37 C1940.86,847.21 1943.69,842.72 1946.18,837.99 C1948.68,833.27 1950.98,828.01 1952.77,823.01 C1954.57,818.02 1955.90,812.46 1956.96,808.03 C1958.03,803.60 1958.74,799.49 1959.16,796.45 C1959.57,793.40 1959.02,791.87 1959.45,789.75 C1959.88,787.64 1960.48,787.09 1961.75,783.76 C1963.01,780.43 1964.63,775.72 1967.04,769.78 C1969.45,763.84 1973.42,755.89 1976.23,748.11 C1979.04,740.34 1981.82,731.47 1983.92,723.15 C1986.02,714.83 1987.73,705.94 1988.81,698.19 C1989.89,690.43 1989.89,682.16 1990.41,676.62 C1990.92,671.07 1991.82,670.21 1991.90,664.93 C1991.99,659.66 1991.07,654.11 1990.90,644.96 C1990.73,635.81 1990.90,621.66 1990.90,610.01 C1990.90,598.36 1991.32,585.88 1990.90,575.06 C1990.49,564.24 1989.24,553.43 1988.41,545.10 C1987.58,536.78 1986.58,531.79 1985.91,525.13 C1985.25,518.48 1985.17,511.82 1984.42,505.16 C1983.67,498.50 1982.68,491.01 1981.43,485.19 C1980.18,479.36 1978.19,473.82 1976.94,470.21 C1975.69,466.60 1975.27,466.85 1973.94,463.52 C1972.61,460.19 1970.11,454.11 1968.95,450.24 C1967.78,446.36 1967.37,443.24 1966.95,440.25 C1966.54,437.25 1966.87,435.59 1966.46,432.26 C1966.04,428.93 1965.91,425.05 1964.47,420.27 C1963.02,415.49 1960.27,408.87 1957.78,403.59 C1955.28,398.32 1952.25,392.77 1949.49,388.61 C1946.73,384.45 1944.25,381.67 1941.20,378.63 C1938.15,375.58 1934.27,372.42 1931.21,370.34 C1928.14,368.26 1924.85,367.73 1922.81,366.15 C1920.78,364.57 1920.68,363.49 1919.02,360.86 C1917.36,358.23 1915.53,354.33 1912.83,350.37 C1910.13,346.41 1906.44,341.25 1902.84,337.09 C1899.25,332.93 1894.89,328.77 1891.26,325.41 C1887.63,322.05 1882.77,318.34 1881.07,316.92Z" fill="#27aae1"/>
<path d="M1882.21,315.80 C1883.92,317.22 1888.79,320.94 1892.43,324.32 C1896.07,327.69 1900.45,331.87 1904.06,336.05 C1907.67,340.22 1911.38,345.40 1914.08,349.38 C1916.79,353.35 1918.63,357.26 1920.30,359.90 C1921.97,362.54 1922.07,363.62 1924.11,365.21 C1926.15,366.80 1929.45,367.34 1932.52,369.43 C1935.59,371.52 1939.48,374.69 1942.54,377.75 C1945.59,380.81 1948.08,383.60 1950.85,387.78 C1953.62,391.95 1956.67,397.52 1959.17,402.81 C1961.68,408.11 1964.44,414.75 1965.89,419.55 C1967.35,424.34 1967.48,428.23 1967.90,431.57 C1968.32,434.91 1967.99,436.58 1968.41,439.59 C1968.83,442.59 1969.25,445.72 1970.42,449.61 C1971.59,453.50 1974.10,459.60 1975.43,462.94 C1976.77,466.28 1977.19,466.03 1978.44,469.65 C1979.69,473.28 1981.70,478.84 1982.95,484.69 C1984.20,490.54 1985.21,498.05 1985.96,504.73 C1986.72,511.42 1986.81,518.10 1987.48,524.78 C1988.15,531.46 1989.15,536.47 1989.98,544.83 C1990.82,553.18 1992.08,564.04 1992.49,574.90 C1992.91,585.76 1992.50,598.29 1992.50,609.98 C1992.50,621.68 1992.33,635.88 1992.50,645.06 C1992.66,654.25 1993.58,659.82 1993.49,665.11 C1993.41,670.41 1992.51,671.28 1991.99,676.84 C1991.47,682.40 1991.47,690.71 1990.38,698.49 C1989.29,706.28 1987.57,715.20 1985.47,723.55 C1983.36,731.90 1980.57,740.81 1977.75,748.61 C1974.93,756.41 1970.95,764.40 1968.53,770.36 C1966.11,776.33 1964.49,781.05 1963.22,784.39 C1961.95,787.74 1961.35,788.29 1960.91,790.41 C1960.48,792.53 1961.03,794.07 1960.61,797.12 C1960.19,800.18 1959.47,804.30 1958.39,808.75 C1957.32,813.19 1955.98,818.77 1954.18,823.78 C1952.37,828.79 1950.07,834.07 1947.56,838.81 C1945.05,843.55 1942.21,848.07 1939.14,852.24 C1936.07,856.42 1932.46,860.81 1929.12,863.87 C1925.78,866.93 1921.74,868.92 1919.11,870.59 C1916.47,872.27 1915.23,872.10 1913.30,873.90 C1911.36,875.71 1909.85,878.63 1907.48,881.42 C1905.11,884.21 1902.27,887.77 1899.06,890.64 C1895.86,893.52 1890.05,897.33 1888.24,898.67 L1771.50,786.20 C1772.32,785.15 1774.79,782.01 1776.40,779.89 C1778.01,777.77 1779.60,775.64 1781.16,773.49 C1782.72,771.34 1784.26,769.18 1785.77,766.99 C1787.28,764.81 1788.76,762.61 1790.22,760.40 C1791.67,758.18 1793.10,755.95 1794.50,753.70 C1795.89,751.45 1797.26,749.18 1798.60,746.89 C1799.93,744.61 1801.23,742.30 1802.51,739.98 C1803.78,737.66 1805.02,735.32 1806.22,732.96 C1807.42,730.61 1808.59,728.23 1809.73,725.84 C1810.87,723.46 1811.97,721.05 1813.03,718.63 C1814.10,716.21 1815.12,713.77 1816.12,711.32 C1817.11,708.87 1818.06,706.40 1818.98,703.92 C1819.90,701.44 1820.78,698.94 1821.62,696.44 C1822.47,693.93 1823.27,691.41 1824.04,688.88 C1824.80,686.35 1825.53,683.80 1826.22,681.25 C1826.91,678.70 1827.55,676.13 1828.16,673.56 C1828.77,670.99 1829.34,668.40 1829.87,665.81 C1830.40,663.22 1830.89,660.62 1831.34,658.02 C1831.79,655.41 1832.20,652.80 1832.57,650.18 C1832.94,647.56 1833.27,644.94 1833.56,642.31 C1833.85,639.68 1834.10,637.04 1834.31,634.41 C1834.51,631.77 1834.68,629.13 1834.81,626.49 C1834.93,623.85 1835.02,621.21 1835.06,618.56 C1835.11,615.92 1835.11,613.27 1835.08,610.63 C1835.04,607.98 1834.96,605.34 1834.84,602.70 C1834.72,600.06 1834.57,597.42 1834.37,594.78 C1834.17,592.14 1833.93,589.51 1833.65,586.88 C1833.37,584.25 1833.04,581.62 1832.68,579.00 C1832.32,576.38 1831.92,573.77 1831.48,571.16 C1831.03,568.55 1830.55,565.95 1830.03,563.36 C1829.51,560.77 1828.95,558.18 1828.34,555.61 C1827.74,553.03 1827.10,550.47 1826.42,547.91 C1825.74,545.36 1825.02,542.81 1824.26,540.28 C1823.50,537.75 1822.70,535.22 1821.87,532.71 C1821.03,530.21 1820.16,527.71 1819.24,525.23 C1818.33,522.74 1817.38,520.28 1816.39,517.82 C1815.41,515.37 1814.38,512.93 1813.32,510.51 C1812.26,508.09 1811.16,505.68 1810.02,503.29 C1808.89,500.90 1807.72,498.53 1806.51,496.17 C1805.31,493.82 1804.07,491.48 1802.79,489.17 C1801.51,486.85 1800.20,484.55 1798.86,482.27 C1797.52,479.99 1796.14,477.73 1794.73,475.49 C1793.32,473.25 1791.87,471.03 1790.40,468.84 C1788.92,466.64 1787.42,464.46 1785.88,462.31 C1784.34,460.15 1782.77,458.02 1781.17,455.91 C1779.57,453.79 1777.94,451.70 1776.29,449.64 C1774.63,447.57 1772.94,445.52 1771.23,443.50 C1769.51,441.48 1766.87,438.50 1766.00,437.50Z" fill="#c4dc70"/>
<path d="M1892.70,305.00 C1895.42,307.78 1903.45,315.58 1909.00,321.70 C1914.55,327.82 1920.37,334.77 1926.00,341.70 C1931.63,348.63 1937.23,355.53 1942.80,363.30 C1948.37,371.07 1954.38,379.97 1959.40,388.30 C1964.42,396.63 1968.72,404.68 1972.90,413.30 C1977.08,421.92 1981.27,431.10 1984.50,440.00 C1987.73,448.90 1989.63,457.53 1992.30,466.70 C1994.97,475.87 1998.30,486.67 2000.50,495.00 C2002.70,503.33 2004.13,510.45 2005.50,516.70 C2006.87,522.95 2007.55,523.62 2008.70,532.50 C2009.85,541.38 2011.53,557.92 2012.40,570.00 C2013.27,582.08 2013.83,593.33 2013.90,605.00 C2013.97,616.67 2013.48,629.17 2012.80,640.00 C2012.12,650.83 2010.63,663.05 2009.80,670.00 C2008.97,676.95 2008.55,676.98 2007.80,681.70 C2007.05,686.42 2006.55,691.37 2005.30,698.30 C2004.05,705.23 2002.48,714.97 2000.30,723.30 C1998.12,731.63 1994.72,740.35 1992.20,748.30 C1989.68,756.25 1987.70,763.77 1985.20,771.00 C1982.70,778.23 1980.25,784.37 1977.20,791.70 C1974.15,799.03 1970.57,807.23 1966.90,815.00 C1963.23,822.77 1959.38,830.52 1955.20,838.30 C1951.02,846.08 1946.27,854.47 1941.80,861.70 C1937.33,868.93 1933.13,875.60 1928.40,881.70 C1923.67,887.80 1918.28,893.83 1913.40,898.30 C1908.52,902.77 1901.48,906.80 1899.10,908.50 L1887.50,898.00 C1889.30,896.67 1895.10,892.87 1898.30,890.00 C1901.50,887.13 1904.33,883.58 1906.70,880.80 C1909.07,878.02 1910.57,875.10 1912.50,873.30 C1914.43,871.50 1915.67,871.67 1918.30,870.00 C1920.93,868.33 1924.97,866.35 1928.30,863.30 C1931.63,860.25 1935.23,855.87 1938.30,851.70 C1941.37,847.53 1944.20,843.03 1946.70,838.30 C1949.20,833.57 1951.50,828.30 1953.30,823.30 C1955.10,818.30 1956.43,812.73 1957.50,808.30 C1958.57,803.87 1959.28,799.75 1959.70,796.70 C1960.12,793.65 1959.57,792.12 1960.00,790.00 C1960.43,787.88 1961.03,787.33 1962.30,784.00 C1963.57,780.67 1965.18,775.95 1967.60,770.00 C1970.02,764.05 1973.98,756.08 1976.80,748.30 C1979.62,740.52 1982.40,731.63 1984.50,723.30 C1986.60,714.97 1988.32,706.07 1989.40,698.30 C1990.48,690.53 1990.48,682.25 1991.00,676.70 C1991.52,671.15 1992.42,670.28 1992.50,665.00 C1992.58,659.72 1991.67,654.17 1991.50,645.00 C1991.33,635.83 1991.50,621.67 1991.50,610.00 C1991.50,598.33 1991.92,585.83 1991.50,575.00 C1991.08,564.17 1989.83,553.33 1989.00,545.00 C1988.17,536.67 1987.17,531.67 1986.50,525.00 C1985.83,518.33 1985.75,511.67 1985.00,505.00 C1984.25,498.33 1983.25,490.83 1982.00,485.00 C1980.75,479.17 1978.75,473.62 1977.50,470.00 C1976.25,466.38 1975.83,466.63 1974.50,463.30 C1973.17,459.97 1970.67,453.88 1969.50,450.00 C1968.33,446.12 1967.92,443.00 1967.50,440.00 C1967.08,437.00 1967.42,435.33 1967.00,432.00 C1966.58,428.67 1966.45,424.78 1965.00,420.00 C1963.55,415.22 1960.80,408.58 1958.30,403.30 C1955.80,398.02 1952.77,392.47 1950.00,388.30 C1947.23,384.13 1944.75,381.35 1941.70,378.30 C1938.65,375.25 1934.77,372.08 1931.70,370.00 C1928.63,367.92 1925.33,367.38 1923.30,365.80 C1921.27,364.22 1921.17,363.13 1919.50,360.50 C1917.83,357.87 1916.00,353.97 1913.30,350.00 C1910.60,346.03 1906.90,340.87 1903.30,336.70 C1899.70,332.53 1895.33,328.37 1891.70,325.00 C1888.07,321.63 1883.20,317.92 1881.50,316.50Z" fill="#231f20"/>
<path d="M1977.14,468.26 L1977.27,468.75 L1977.45,469.33 L1977.62,469.89 L1977.81,470.46 L1977.99,471.05 L1978.19,471.68 L1978.39,472.36 L1978.59,473.09 L1978.81,473.88 L1979.02,474.74 L1979.24,475.68 L1979.46,476.72 L1979.71,477.94 L1980.00,479.35 L1980.30,480.92 L1980.63,482.59 L1980.96,484.35 L1981.29,486.15 L1981.62,487.97 L1981.93,489.78 L1982.23,491.54 L1982.50,493.22 L1982.74,494.79 L1982.95,496.22 L1983.15,497.52 L1983.33,498.76 L1983.48,499.95 L1983.62,501.10 L1983.74,502.21 L1983.85,503.30 L1983.95,504.36 L1984.04,505.42 L1984.13,506.46 L1984.21,507.50 L1984.29,508.55 L1984.37,509.61 L1984.46,510.64 L1984.54,511.59 L1984.61,512.46 L1984.68,513.27 L1984.74,514.04 L1984.79,514.77 L1984.83,515.50 L1984.86,516.24 L1984.88,517.02 L1984.88,517.85 L1984.88,518.77 L1984.85,519.81 L1984.82,521.00 L1984.79,522.27 L1984.75,523.58 L1984.70,524.93 L1984.64,526.29 L1984.57,527.67 L1984.48,529.06 L1984.37,530.43 L1984.24,531.78 L1984.08,533.09 L1983.90,534.36 L1983.68,535.58 L1983.43,536.82 L1983.13,538.12 L1982.80,539.46 L1982.43,540.82 L1982.04,542.19 L1981.62,543.56 L1981.19,544.92 L1980.74,546.25 L1980.28,547.55 L1979.83,548.79 L1979.37,549.98 L1978.93,551.09 L1978.49,552.12 L1978.06,553.08 L1977.63,553.99 L1977.20,554.86 L1976.76,555.68 L1976.32,556.48 L1975.87,557.25 L1975.40,557.99 L1974.93,558.73 L1974.43,559.46 L1973.92,560.18 L1973.39,560.90 L1972.85,561.60 L1972.32,562.26 L1971.78,562.89 L1971.24,563.51 L1970.69,564.11 L1970.12,564.68 L1969.55,565.25 L1968.96,565.79 L1968.35,566.33 L1967.73,566.85 L1967.09,567.36 L1966.46,567.84 L1965.85,568.28 L1965.22,568.69 L1964.54,569.11 L1963.81,569.53 L1963.03,569.95 L1962.21,570.38 L1961.35,570.82 L1960.45,571.26 L1959.52,571.71 L1958.56,572.18 L1957.57,572.67 L1956.62,573.14 L1955.75,573.56 L1954.88,573.96 L1953.95,574.38 L1952.96,574.80 L1951.94,575.24 L1950.88,575.69 L1949.79,576.16 L1948.69,576.65 L1947.58,577.17 L1946.45,577.72 L1945.32,578.33 L1944.23,578.96 L1943.25,579.58 L1942.33,580.19 L1941.45,580.81 L1940.59,581.44 L1939.75,582.09 L1938.94,582.76 L1938.16,583.44 L1937.41,584.14 L1936.68,584.85 L1935.98,585.58 L1935.30,586.32 L1934.63,587.09 L1933.97,587.93 L1933.34,588.79 L1932.76,589.66 L1932.22,590.52 L1931.72,591.39 L1931.26,592.24 L1930.83,593.09 L1930.43,593.93 L1930.06,594.75 L1929.71,595.56 L1929.38,596.36 L1929.05,597.19 L1928.70,598.08 L1928.37,599.01 L1928.07,599.92 L1927.80,600.81 L1927.56,601.68 L1927.34,602.52 L1927.14,603.35 L1926.95,604.15 L1926.76,604.93 L1926.58,605.70 L1926.41,606.44 L1926.22,607.20 L1926.02,608.02 L1925.81,608.89 L1925.60,609.75 L1925.40,610.62 L1925.21,611.49 L1925.01,612.36 L1924.82,613.23 L1924.63,614.09 L1924.44,614.95 L1924.25,615.80 L1924.07,616.63 L1923.88,617.47 L1923.69,618.34 L1923.50,619.20 L1923.33,620.04 L1923.15,620.87 L1922.99,621.68 L1922.82,622.48 L1922.66,623.26 L1922.49,624.03 L1922.32,624.80 L1922.14,625.55 L1921.95,626.30 L1921.75,627.08 L1921.53,627.89 L1921.30,628.73 L1921.07,629.57 L1920.83,630.41 L1920.58,631.25 L1920.33,632.08 L1920.08,632.91 L1919.81,633.74 L1919.54,634.55 L1919.27,635.36 L1918.98,636.15 L1918.68,636.95 L1918.39,637.82 L1918.08,638.71 L1917.77,639.61 L1917.45,640.49 L1917.14,641.35 L1916.82,642.19 L1916.50,643.00 L1916.18,643.76 L1915.88,644.46 L1915.58,645.09 L1915.30,645.65 L1915.03,646.15 L1914.70,646.65 L1914.34,647.16 L1913.98,647.63 L1913.63,648.08 L1913.29,648.47 L1912.97,648.81 L1912.69,649.09 L1912.46,649.30 L1912.30,649.43 L1912.23,649.48 L1912.29,649.45 L1912.51,649.35 L1912.87,649.24 L1913.25,649.18 L1913.60,649.16 L1913.87,649.18 L1914.04,649.20 L1914.11,649.22 L1914.07,649.21 L1913.95,649.15 L1913.75,649.05 L1913.47,648.90 L1913.14,648.71 L1912.88,648.56 L1912.77,648.48 L1912.63,648.37 L1912.38,648.13 L1912.04,647.80 L1911.65,647.38 L1911.21,646.90 L1910.74,646.37 L1910.23,645.79 L1909.68,645.19 L1909.10,644.56 L1908.47,643.91 L1907.89,643.35 L1907.51,642.99 L1907.19,642.67 L1906.82,642.28 L1906.39,641.83 L1905.90,641.33 L1905.35,640.78 L1904.69,640.18 L1903.90,639.53 L1902.93,638.87 L1901.71,638.22 L1900.17,637.68 L1898.41,637.41 L1896.71,637.47 L1895.22,637.78 L1893.93,638.24 L1892.84,638.78 L1891.92,639.36 L1891.12,639.95 L1890.41,640.53 L1889.78,641.11 L1889.21,641.66 L1888.69,642.21 L1888.20,642.73 L1887.66,643.32 L1887.01,644.09 L1886.38,644.94 L1885.83,645.75 L1885.33,646.54 L1884.86,647.30 L1884.43,648.02 L1884.03,648.70 L1883.65,649.32 L1883.31,649.87 L1883.00,650.34 L1882.75,650.69 L1882.50,651.01 L1882.14,651.43 L1881.73,651.92 L1881.33,652.38 L1880.94,652.80 L1880.58,653.19 L1880.26,653.51 L1879.98,653.77 L1879.78,653.95 L1879.67,654.04 L1879.71,654.01 L1879.95,653.89 L1880.37,653.73 L1880.83,653.61 L1881.28,653.56 L1881.79,653.56 L1882.30,653.63 L1882.76,653.75 L1883.15,653.90 L1883.43,654.05 L1883.61,654.17 L1883.70,654.24 L1883.70,654.24 L1883.64,654.17 L1883.54,654.06 L1883.44,653.93 L1883.31,653.73 L1883.13,653.43 L1882.92,653.05 L1882.69,652.58 L1882.43,652.04 L1882.17,651.43 L1881.89,650.76 L1881.60,650.03 L1881.30,649.26 L1880.99,648.43 L1880.69,647.62 L1880.41,646.80 L1880.12,645.90 L1879.82,644.88 L1879.50,643.78 L1879.18,642.62 L1878.85,641.41 L1878.51,640.18 L1878.17,638.94 L1877.82,637.70 L1877.46,636.48 L1877.08,635.29 L1876.71,634.17 L1876.35,633.17 L1876.01,632.22 L1875.66,631.26 L1875.30,630.30 L1874.93,629.35 L1874.55,628.41 L1874.15,627.48 L1873.72,626.56 L1873.25,625.65 L1872.73,624.73 L1872.10,623.78 L1871.34,622.82 L1870.45,621.91 L1869.40,621.07 L1868.12,620.33 L1866.65,619.76 L1865.06,619.47 L1863.51,619.45 L1862.11,619.67 L1860.93,620.03 L1859.95,620.46 L1859.13,620.90 L1858.45,621.33 L1857.77,621.80 L1857.03,622.39 L1856.30,623.04 L1855.64,623.70 L1855.02,624.38 L1854.43,625.09 L1853.86,625.82 L1853.30,626.56 L1852.76,627.34 L1852.24,628.13 L1851.73,628.94 L1851.24,629.76 L1850.76,630.62 L1850.29,631.51 L1849.84,632.44 L1849.43,633.36 L1849.03,634.28 L1848.66,635.21 L1848.30,636.13 L1847.96,637.05 L1847.62,637.97 L1847.29,638.88 L1846.97,639.79 L1846.65,640.68 L1846.31,641.62 L1845.95,642.65 L1845.59,643.73 L1845.25,644.80 L1844.92,645.88 L1844.59,646.94 L1844.28,647.97 L1843.96,648.98 L1843.66,649.95 L1843.35,650.87 L1843.05,651.73 L1842.76,652.51 L1842.46,653.24 L1842.13,653.99 L1841.78,654.77 L1841.42,655.53 L1841.06,656.27 L1840.69,656.98 L1840.33,657.66 L1839.98,658.29 L1839.64,658.87 L1839.31,659.38 L1839.02,659.83 L1838.76,660.19 L1838.58,660.41 L1838.55,660.45 L1838.61,660.39 L1838.67,660.34 L1838.71,660.32 L1838.68,660.33 L1838.56,660.38 L1838.31,660.49 L1837.93,660.64 L1837.40,660.86 L1836.73,661.15 L1835.94,661.56 L1835.29,661.95 L1835.04,662.10 L1834.97,662.14 L1834.78,662.23 L1834.46,662.39 L1833.99,662.62 L1833.37,662.95 L1832.64,663.40 L1831.83,663.98 L1831.00,664.69 L1830.21,665.53 L1829.49,666.45 L1828.92,667.34 L1828.48,668.10 L1828.11,668.82 L1827.74,669.58 L1827.39,670.38 L1827.05,671.21 L1826.74,672.09 L1826.44,673.00 L1826.15,673.97 L1825.88,674.99 L1825.60,676.09 L1825.33,677.26 L1825.05,678.56 L1824.75,680.07 L1824.44,681.80 L1824.11,683.70 L1823.79,685.72 L1823.46,687.80 L1823.14,689.90 L1822.83,691.97 L1822.54,693.94 L1822.28,695.75 L1822.04,697.36 L1821.84,698.70 L1821.68,699.72 L1835.72,701.88 L1835.88,700.82 L1836.09,699.44 L1836.32,697.82 L1836.59,696.01 L1836.88,694.05 L1837.18,692.02 L1837.50,689.97 L1837.81,687.94 L1838.12,686.02 L1838.42,684.25 L1838.70,682.70 L1838.95,681.44 L1839.18,680.37 L1839.41,679.41 L1839.62,678.57 L1839.82,677.84 L1840.00,677.22 L1840.17,676.69 L1840.33,676.24 L1840.49,675.86 L1840.63,675.53 L1840.78,675.21 L1840.95,674.90 L1841.08,674.66 L1841.10,674.63 L1840.98,674.78 L1840.81,674.96 L1840.62,675.13 L1840.45,675.25 L1840.38,675.30 L1840.44,675.27 L1840.65,675.17 L1841.03,674.98 L1841.56,674.72 L1842.21,674.36 L1842.71,674.05 L1842.83,673.98 L1842.82,673.98 L1842.96,673.93 L1843.25,673.80 L1843.71,673.62 L1844.32,673.37 L1845.05,673.02 L1845.88,672.57 L1846.78,672.00 L1847.70,671.30 L1848.61,670.47 L1849.42,669.59 L1850.08,668.75 L1850.67,667.94 L1851.23,667.10 L1851.77,666.24 L1852.29,665.37 L1852.79,664.47 L1853.28,663.55 L1853.76,662.62 L1854.22,661.68 L1854.67,660.72 L1855.11,659.76 L1855.54,658.76 L1855.98,657.69 L1856.40,656.57 L1856.79,655.46 L1857.16,654.34 L1857.51,653.24 L1857.85,652.15 L1858.17,651.08 L1858.49,650.05 L1858.80,649.05 L1859.10,648.11 L1859.39,647.23 L1859.69,646.38 L1860.01,645.49 L1860.34,644.57 L1860.66,643.67 L1860.97,642.81 L1861.27,641.98 L1861.57,641.18 L1861.86,640.43 L1862.15,639.72 L1862.43,639.06 L1862.71,638.45 L1862.97,637.89 L1863.24,637.38 L1863.53,636.87 L1863.84,636.34 L1864.17,635.83 L1864.50,635.33 L1864.82,634.86 L1865.14,634.43 L1865.44,634.05 L1865.72,633.73 L1865.95,633.47 L1866.12,633.30 L1866.20,633.22 L1866.23,633.20 L1866.29,633.16 L1866.32,633.14 L1866.19,633.21 L1865.89,633.34 L1865.36,633.50 L1864.62,633.61 L1863.71,633.60 L1862.76,633.42 L1861.92,633.10 L1861.29,632.73 L1860.89,632.42 L1860.66,632.18 L1860.57,632.07 L1860.61,632.13 L1860.75,632.37 L1860.95,632.77 L1861.19,633.28 L1861.45,633.90 L1861.74,634.60 L1862.03,635.36 L1862.34,636.19 L1862.66,637.05 L1862.98,637.95 L1863.29,638.83 L1863.58,639.68 L1863.87,640.61 L1864.18,641.65 L1864.50,642.76 L1864.82,643.94 L1865.15,645.15 L1865.49,646.39 L1865.83,647.63 L1866.18,648.86 L1866.55,650.08 L1866.93,651.27 L1867.31,652.38 L1867.68,653.37 L1868.03,654.31 L1868.38,655.23 L1868.74,656.13 L1869.12,657.02 L1869.50,657.90 L1869.91,658.77 L1870.34,659.62 L1870.80,660.46 L1871.30,661.30 L1871.85,662.14 L1872.46,662.94 L1873.07,663.66 L1873.72,664.34 L1874.43,665.00 L1875.24,665.64 L1876.15,666.24 L1877.17,666.78 L1878.30,667.23 L1879.52,667.56 L1880.80,667.73 L1882.09,667.74 L1883.35,667.59 L1884.63,667.27 L1885.90,666.78 L1887.02,666.19 L1887.96,665.57 L1888.78,664.94 L1889.51,664.31 L1890.18,663.67 L1890.80,663.04 L1891.39,662.42 L1891.95,661.80 L1892.47,661.20 L1892.97,660.62 L1893.50,659.99 L1894.12,659.21 L1894.72,658.36 L1895.26,657.54 L1895.75,656.75 L1896.21,656.00 L1896.63,655.29 L1897.02,654.64 L1897.38,654.05 L1897.70,653.55 L1897.96,653.16 L1898.16,652.89 L1898.34,652.68 L1898.63,652.36 L1898.98,651.99 L1899.29,651.67 L1899.55,651.41 L1899.75,651.23 L1899.88,651.12 L1899.92,651.09 L1899.82,651.15 L1899.57,651.27 L1899.11,651.43 L1898.45,651.56 L1897.59,651.59 L1896.66,651.44 L1895.94,651.20 L1895.52,650.98 L1895.35,650.87 L1895.37,650.89 L1895.53,651.04 L1895.79,651.29 L1896.13,651.65 L1896.54,652.09 L1897.03,652.59 L1897.59,653.16 L1898.11,653.65 L1898.46,653.98 L1898.78,654.31 L1899.18,654.74 L1899.63,655.24 L1900.12,655.80 L1900.66,656.41 L1901.25,657.05 L1901.88,657.72 L1902.58,658.41 L1903.35,659.11 L1904.22,659.82 L1905.12,660.44 L1905.86,660.90 L1906.53,661.29 L1907.25,661.68 L1908.05,662.07 L1908.93,662.44 L1909.89,662.78 L1910.96,663.07 L1912.13,663.27 L1913.40,663.36 L1914.75,663.30 L1916.13,663.06 L1917.49,662.65 L1918.72,662.11 L1919.80,661.49 L1920.76,660.83 L1921.63,660.14 L1922.44,659.42 L1923.19,658.68 L1923.89,657.91 L1924.56,657.13 L1925.20,656.34 L1925.81,655.53 L1926.39,654.71 L1926.97,653.85 L1927.58,652.92 L1928.17,651.95 L1928.72,650.97 L1929.24,649.98 L1929.74,648.98 L1930.22,647.98 L1930.68,646.99 L1931.12,646.00 L1931.54,645.03 L1931.95,644.08 L1932.33,643.16 L1932.72,642.25 L1933.07,641.29 L1933.42,640.32 L1933.76,639.34 L1934.08,638.38 L1934.38,637.41 L1934.68,636.46 L1934.97,635.51 L1935.24,634.57 L1935.50,633.64 L1935.76,632.73 L1936.01,631.83 L1936.25,630.92 L1936.49,630.00 L1936.72,629.07 L1936.93,628.17 L1937.13,627.28 L1937.32,626.41 L1937.50,625.56 L1937.68,624.72 L1937.85,623.91 L1938.01,623.10 L1938.18,622.31 L1938.35,621.52 L1938.52,620.73 L1938.71,619.89 L1938.90,619.04 L1939.09,618.18 L1939.28,617.32 L1939.46,616.47 L1939.65,615.63 L1939.84,614.79 L1940.03,613.97 L1940.21,613.15 L1940.40,612.36 L1940.59,611.58 L1940.78,610.80 L1940.98,609.98 L1941.18,609.15 L1941.37,608.36 L1941.54,607.61 L1941.71,606.89 L1941.88,606.21 L1942.05,605.57 L1942.22,604.96 L1942.39,604.39 L1942.56,603.85 L1942.75,603.34 L1942.95,602.81 L1943.21,602.23 L1943.49,601.62 L1943.76,601.04 L1944.04,600.48 L1944.31,599.95 L1944.59,599.44 L1944.87,598.97 L1945.15,598.51 L1945.44,598.08 L1945.74,597.68 L1946.04,597.29 L1946.37,596.91 L1946.73,596.49 L1947.12,596.06 L1947.53,595.64 L1947.95,595.23 L1948.38,594.83 L1948.84,594.43 L1949.33,594.03 L1949.84,593.63 L1950.38,593.23 L1950.95,592.83 L1951.56,592.42 L1952.17,592.04 L1952.77,591.69 L1953.43,591.34 L1954.19,590.97 L1955.03,590.57 L1955.94,590.17 L1956.91,589.75 L1957.93,589.32 L1958.99,588.87 L1960.07,588.40 L1961.18,587.90 L1962.31,587.38 L1963.38,586.86 L1964.34,586.39 L1965.26,585.93 L1966.21,585.47 L1967.18,585.00 L1968.18,584.51 L1969.20,583.99 L1970.24,583.45 L1971.29,582.88 L1972.35,582.26 L1973.42,581.61 L1974.50,580.90 L1975.54,580.16 L1976.51,579.42 L1977.44,578.68 L1978.34,577.92 L1979.23,577.13 L1980.09,576.33 L1980.94,575.50 L1981.77,574.66 L1982.58,573.79 L1983.36,572.90 L1984.13,571.98 L1984.89,571.05 L1985.61,570.10 L1986.32,569.15 L1987.00,568.18 L1987.67,567.20 L1988.32,566.19 L1988.97,565.15 L1989.59,564.08 L1990.21,562.98 L1990.81,561.85 L1991.39,560.67 L1991.97,559.46 L1992.53,558.21 L1993.07,556.91 L1993.61,555.57 L1994.15,554.18 L1994.68,552.73 L1995.21,551.23 L1995.72,549.69 L1996.23,548.12 L1996.71,546.53 L1997.17,544.92 L1997.61,543.30 L1998.02,541.67 L1998.38,540.05 L1998.72,538.42 L1999.01,536.77 L1999.25,535.10 L1999.45,533.44 L1999.61,531.79 L1999.74,530.17 L1999.84,528.58 L1999.92,527.02 L1999.99,525.52 L2000.04,524.07 L2000.08,522.70 L2000.11,521.41 L2000.15,520.19 L2000.17,519.00 L2000.18,517.86 L2000.17,516.78 L2000.15,515.76 L2000.11,514.79 L2000.06,513.85 L2000.00,512.95 L1999.93,512.06 L1999.86,511.18 L1999.78,510.29 L1999.71,509.37 L1999.63,508.39 L1999.54,507.36 L1999.46,506.32 L1999.38,505.24 L1999.29,504.14 L1999.19,503.00 L1999.08,501.83 L1998.96,500.61 L1998.82,499.35 L1998.66,498.04 L1998.48,496.67 L1998.28,495.25 L1998.05,493.78 L1997.76,492.22 L1997.43,490.55 L1997.08,488.79 L1996.70,486.96 L1996.30,485.10 L1995.90,483.22 L1995.49,481.37 L1995.08,479.55 L1994.67,477.82 L1994.28,476.18 L1993.90,474.66 L1993.54,473.28 L1993.17,471.99 L1992.79,470.78 L1992.41,469.65 L1992.04,468.62 L1991.67,467.67 L1991.31,466.82 L1990.98,466.06 L1990.68,465.39 L1990.41,464.83 L1990.18,464.37 L1990.01,464.05 L1989.86,463.74Z" fill="#231f20" stroke="#231f20" stroke-width="0.6" stroke-linejoin="round"/>
<path d="M2001.70,533.00 C2003.10,531.33 2004.82,531.78 2006.70,531.70 C2008.58,531.62 2010.78,531.82 2013.00,532.50 C2015.22,533.18 2017.67,534.22 2020.00,535.80 C2022.33,537.38 2025.05,539.63 2027.00,542.00 C2028.95,544.37 2030.08,545.33 2031.70,550.00 C2033.32,554.67 2035.60,562.50 2036.70,570.00 C2037.80,577.50 2038.08,586.67 2038.30,595.00 C2038.52,603.33 2038.42,612.50 2038.00,620.00 C2037.58,627.50 2036.85,633.88 2035.80,640.00 C2034.75,646.12 2033.78,651.15 2031.70,656.70 C2029.62,662.25 2026.37,669.33 2023.30,673.30 C2020.23,677.27 2016.63,679.10 2013.30,680.50 C2009.97,681.90 2006.90,682.62 2003.30,681.70 C1999.70,680.78 1995.03,678.62 1991.70,675.00 C1988.37,671.38 1985.38,665.83 1983.30,660.00 C1981.22,654.17 1980.08,646.67 1979.20,640.00 C1978.32,633.33 1978.15,626.12 1978.00,620.00 C1977.85,613.88 1977.97,608.85 1978.30,603.30 C1978.63,597.75 1979.17,591.70 1980.00,586.70 C1980.83,581.70 1981.63,577.20 1983.30,573.30 C1984.97,569.40 1988.05,566.90 1990.00,563.30 C1991.95,559.70 1993.62,555.30 1995.00,551.70 C1996.38,548.10 1997.18,544.82 1998.30,541.70 C1999.42,538.58 2000.30,534.67 2001.70,533.00Z" fill="#bcbec0"/>
<path d="M2018.48,535.00 L2018.47,535.36 L2018.48,535.81 L2018.49,536.34 L2018.51,536.93 L2018.53,537.58 L2018.56,538.27 L2018.60,538.99 L2018.63,539.72 L2018.67,540.47 L2018.71,541.20 L2018.75,541.92 L2018.79,542.62 L2018.87,543.29 L2018.95,543.93 L2019.04,544.54 L2019.12,545.13 L2019.21,545.70 L2019.29,546.27 L2019.37,546.85 L2019.45,547.46 L2019.53,548.11 L2019.61,548.82 L2019.69,549.59 L2019.77,550.46 L2019.83,551.40 L2019.88,552.38 L2019.94,553.41 L2019.99,554.48 L2020.05,555.60 L2020.10,556.78 L2020.16,558.02 L2020.22,559.33 L2020.29,560.72 L2020.36,562.18 L2020.43,563.72 L2020.51,565.34 L2020.55,567.07 L2020.60,568.95 L2020.65,570.96 L2020.70,573.06 L2020.76,575.23 L2020.82,577.45 L2020.89,579.70 L2020.96,581.95 L2021.03,584.17 L2021.10,586.35 L2021.18,588.46 L2021.27,590.48 L2021.37,592.45 L2021.49,594.43 L2021.62,596.39 L2021.75,598.34 L2021.89,600.25 L2022.02,602.11 L2022.15,603.91 L2022.28,605.64 L2022.39,607.29 L2022.49,608.83 L2022.57,610.26 L2022.62,611.58 L2022.71,612.80 L2022.79,613.88 L2022.86,614.81 L2022.91,615.61 L2022.96,616.31 L2022.99,616.92 L2023.00,617.46 L2023.01,617.99 L2023.00,618.54 L2022.98,619.15 L2022.95,619.86 L2022.91,620.71 L2022.82,621.66 L2022.72,622.67 L2022.62,623.70 L2022.50,624.76 L2022.36,625.85 L2022.22,626.95 L2022.06,628.07 L2021.88,629.19 L2021.69,630.30 L2021.49,631.41 L2021.27,632.51 L2021.03,633.58 L2020.76,634.67 L2020.46,635.80 L2020.13,636.99 L2019.77,638.20 L2019.40,639.43 L2019.01,640.66 L2018.62,641.88 L2018.21,643.09 L2017.81,644.26 L2017.41,645.40 L2017.02,646.47 L2016.64,647.48 L2016.32,648.41 L2016.01,649.27 L2015.70,650.08 L2015.40,650.84 L2015.10,651.57 L2014.80,652.26 L2014.50,652.94 L2014.19,653.60 L2013.88,654.26 L2013.55,654.92 L2013.21,655.59 L2012.87,656.25 L2012.58,656.88 L2012.26,657.53 L2011.90,658.21 L2011.53,658.91 L2011.13,659.61 L2010.73,660.32 L2010.32,661.02 L2009.92,661.71 L2009.52,662.37 L2009.15,663.01 L2008.79,663.63 L2008.47,664.18 L2008.23,664.61 L2008.04,664.95 L2007.88,665.24 L2007.74,665.49 L2007.62,665.70 L2007.52,665.89 L2007.43,666.05 L2007.34,666.21 L2007.25,666.37 L2007.14,666.56 L2007.00,666.79 L2006.89,666.99 L2020.11,676.01 L2020.17,675.95 L2020.23,675.91 L2020.33,675.81 L2020.47,675.64 L2020.65,675.43 L2020.85,675.18 L2021.08,674.88 L2021.33,674.55 L2021.61,674.17 L2021.90,673.76 L2022.21,673.30 L2022.53,672.82 L2022.84,672.35 L2023.20,671.82 L2023.60,671.22 L2024.05,670.55 L2024.52,669.82 L2025.02,669.05 L2025.54,668.24 L2026.07,667.39 L2026.60,666.51 L2027.12,665.60 L2027.64,664.67 L2028.13,663.75 L2028.52,662.88 L2028.90,662.04 L2029.26,661.19 L2029.62,660.33 L2029.98,659.45 L2030.32,658.55 L2030.67,657.63 L2031.01,656.68 L2031.35,655.70 L2031.68,654.68 L2032.02,653.62 L2032.36,652.52 L2032.66,651.37 L2032.98,650.16 L2033.31,648.89 L2033.64,647.58 L2033.97,646.22 L2034.30,644.84 L2034.62,643.44 L2034.93,642.02 L2035.22,640.61 L2035.50,639.20 L2035.75,637.80 L2035.97,636.42 L2036.17,635.06 L2036.35,633.71 L2036.50,632.37 L2036.64,631.03 L2036.75,629.72 L2036.84,628.42 L2036.92,627.15 L2036.99,625.90 L2037.03,624.69 L2037.07,623.52 L2037.09,622.38 L2037.09,621.29 L2037.11,620.26 L2037.12,619.31 L2037.10,618.41 L2037.07,617.57 L2037.02,616.75 L2036.95,615.96 L2036.88,615.18 L2036.79,614.39 L2036.70,613.55 L2036.60,612.64 L2036.49,611.62 L2036.38,610.42 L2036.20,609.04 L2036.01,607.53 L2035.80,605.95 L2035.57,604.28 L2035.34,602.55 L2035.10,600.77 L2034.86,598.93 L2034.62,597.07 L2034.38,595.19 L2034.15,593.29 L2033.94,591.40 L2033.73,589.52 L2033.53,587.59 L2033.33,585.55 L2033.13,583.42 L2032.93,581.24 L2032.74,579.02 L2032.55,576.80 L2032.37,574.59 L2032.19,572.42 L2032.01,570.32 L2031.83,568.31 L2031.66,566.42 L2031.49,564.66 L2031.37,563.04 L2031.25,561.50 L2031.14,560.05 L2031.04,558.67 L2030.93,557.35 L2030.83,556.09 L2030.73,554.89 L2030.64,553.74 L2030.54,552.64 L2030.44,551.58 L2030.34,550.55 L2030.23,549.54 L2030.14,548.58 L2030.05,547.70 L2029.96,546.88 L2029.87,546.13 L2029.78,545.44 L2029.69,544.79 L2029.60,544.19 L2029.51,543.61 L2029.43,543.06 L2029.36,542.52 L2029.28,541.97 L2029.21,541.38 L2029.10,540.75 L2028.98,540.07 L2028.86,539.36 L2028.74,538.65 L2028.63,537.93 L2028.51,537.23 L2028.40,536.56 L2028.29,535.92 L2028.19,535.33 L2028.09,534.81 L2028.00,534.36 L2027.92,534.00Z" fill="#ed1c24" stroke="#ed1c24" stroke-width="0.6" stroke-linejoin="round"/>
<circle cx="2014.2" cy="670.5" r="8" fill="#ed1c24"/>
<path d="M1221.47,244.50A524.50,524.50 0 0,1 1912.25,236.55" fill="none" stroke="#231f20" stroke-width="2.2" stroke-dasharray="8.8 7.8"/>
<path d="M1950.37,243.39A525.20,525.20 0 0,1 1957.59,962.52" fill="none" stroke="#231f20" stroke-width="2.2" stroke-dasharray="8.8 7.8"/>
<path d="M1232.89,380.47 L1188.80,354.56 L1200.56,347.38 L1170.80,346.70 L1185.87,372.38 L1186.42,358.61 L1230.51,384.53Z" fill="#ed1c24"/>
<path d="M1153.12,632.86 L1102.51,637.00 L1108.19,623.65 L1082.50,640.80 L1110.63,653.55 L1102.86,641.29 L1153.48,637.14Z" fill="#ed1c24"/>
<path d="M1372.24,252.16 L1336.04,207.92 L1350.23,205.36 L1320.50,193.50 L1326.23,224.99 L1331.55,211.59 L1367.76,255.84Z" fill="#ed1c24"/>
<path d="M1516.00,203.34 L1512.72,142.21 L1526.08,148.50 L1508.60,121.40 L1494.12,150.22 L1506.73,142.53 L1510.00,203.66Z" fill="#ed1c24"/>
<path d="M1789.98,254.00 L1815.83,211.18 L1823.00,223.68 L1824.20,191.70 L1796.46,207.66 L1810.87,208.18 L1785.02,251.00Z" fill="#ed1c24"/>
<path d="M1931.74,405.62 L1980.16,369.19 L1981.94,383.62 L1995.80,353.80 L1963.31,358.85 L1976.68,364.56 L1928.26,400.98Z" fill="#ed1c24"/>
<path d="M1998.22,551.15 L2056.99,548.64 L2049.75,560.81 L2080.00,542.50 L2048.30,526.84 L2056.55,538.35 L1997.78,540.85Z" fill="#ed1c24"/>
<path d="M2029.78,660.25 L2053.86,661.35 L2046.07,672.75 L2075.80,657.60 L2047.59,639.79 L2054.29,651.86 L2030.22,650.75Z" fill="#ed1c24"/>
<path d="M1929.89,823.20 L1973.71,849.36 L1961.15,856.25 L1994.00,857.80 L1977.04,829.63 L1976.94,843.95 L1933.11,817.80Z" fill="#ed1c24"/>
<text x="1529.10" y="140.00" font-size="28.00" textLength="117.20" lengthAdjust="spacingAndGlyphs" fill="#231f20">Continent</text>
<text x="997.00" y="487.50" font-size="28.00" textLength="117.20" lengthAdjust="spacingAndGlyphs" fill="#231f20">Continent</text>
<text x="1063" y="345.5" font-size="28" fill="#231f20" textLength="98" lengthAdjust="spacingAndGlyphs">CO<tspan font-size="19.5" dy="7.5">2</tspan><tspan dy="-7.5"> flux</tspan></text>
<text x="1995" y="400" font-size="28" fill="#231f20" textLength="47.5" lengthAdjust="spacingAndGlyphs">CO<tspan font-size="19.5" dy="7.5">2</tspan></text>
<text x="2000.00" y="434.00" font-size="28.00" textLength="42.50" lengthAdjust="spacingAndGlyphs" fill="#231f20">flux</text>
<text x="1340.50" y="637.50" font-size="28.00" textLength="108.50" lengthAdjust="spacingAndGlyphs" fill="#231f20">&gt;~2.7 Ga</text>
<text x="1708.75" y="637.50" font-size="28.00" textLength="95.50" lengthAdjust="spacingAndGlyphs" fill="#231f20">&lt;0.6 Ga</text>
<text x="1501.25" y="464.40" font-size="28.00" textLength="146.25" lengthAdjust="spacingAndGlyphs" fill="#231f20">~2.5–0.6 Ga</text>
<text x="0" y="0" transform="translate(1468.80,361.80) rotate(-12.60)" font-size="28.00" textLength="86.00" lengthAdjust="spacingAndGlyphs" fill="#231f20">Mantle</text>
<text x="0" y="0" transform="translate(1496.50,402.50) rotate(-10.70)" font-size="28.00" textLength="56.00" lengthAdjust="spacingAndGlyphs" fill="#231f20">Core</text>
<text transform="translate(1311.5,161) rotate(-24.3)" font-size="28" fill="#231f20" textLength="93" lengthAdjust="spacingAndGlyphs">O<tspan font-size="19.5" dy="7.5">2</tspan><tspan dy="-7.5"> level</tspan></text>
<text transform="translate(1972.5,239.5) rotate(51.5)" font-size="28" fill="#231f20" textLength="95" lengthAdjust="spacingAndGlyphs">O<tspan font-size="19.5" dy="7.5">2</tspan><tspan dy="-7.5"> level</tspan></text>
<rect x="1343.75" y="839.50" width="48.25" height="16.5" fill="#27aae1"/>
<rect x="1343.75" y="882.00" width="48.25" height="16.5" fill="#231f20"/>
<rect x="1343.75" y="924.50" width="48.25" height="16.5" fill="#bcbec0"/>
<rect x="1343.75" y="967.00" width="48.25" height="16.5" fill="#c4dc70"/>
<rect x="1343.75" y="1009.50" width="48.25" height="16.5" fill="#ed1c24"/>
<path d="M1343.75,1055.5H1386.25" stroke="#231f20" stroke-width="1.9" stroke-dasharray="10 6.25" fill="none"/>
<text x="1408.75" y="855.75" font-size="28.00" textLength="76.75" lengthAdjust="spacingAndGlyphs" fill="#231f20">Ocean</text>
<text x="1408.75" y="898.25" font-size="28.00" textLength="433.75" lengthAdjust="spacingAndGlyphs" fill="#231f20">Basaltic oceanic or continental crust</text>
<text x="1408.75" y="940.75" font-size="28.00" textLength="275.00" lengthAdjust="spacingAndGlyphs" fill="#231f20">Felsic continental crust</text>
<text x="1408.75" y="983.75" font-size="28.00" textLength="85.00" lengthAdjust="spacingAndGlyphs" fill="#231f20">Mantle</text>
<text x="1408.75" y="1026.25" font-size="28.00" textLength="288.75" lengthAdjust="spacingAndGlyphs" fill="#231f20">Crustal carbon reservoir</text>
<text x="1408.75" y="1063.75" font-size="28" fill="#231f20" textLength="383" lengthAdjust="spacingAndGlyphs">Schematic atmospheric O<tspan font-size="19.5" dy="7.5">2</tspan><tspan dy="-7.5"> level</tspan></text>
</g>
</svg></body></html>
